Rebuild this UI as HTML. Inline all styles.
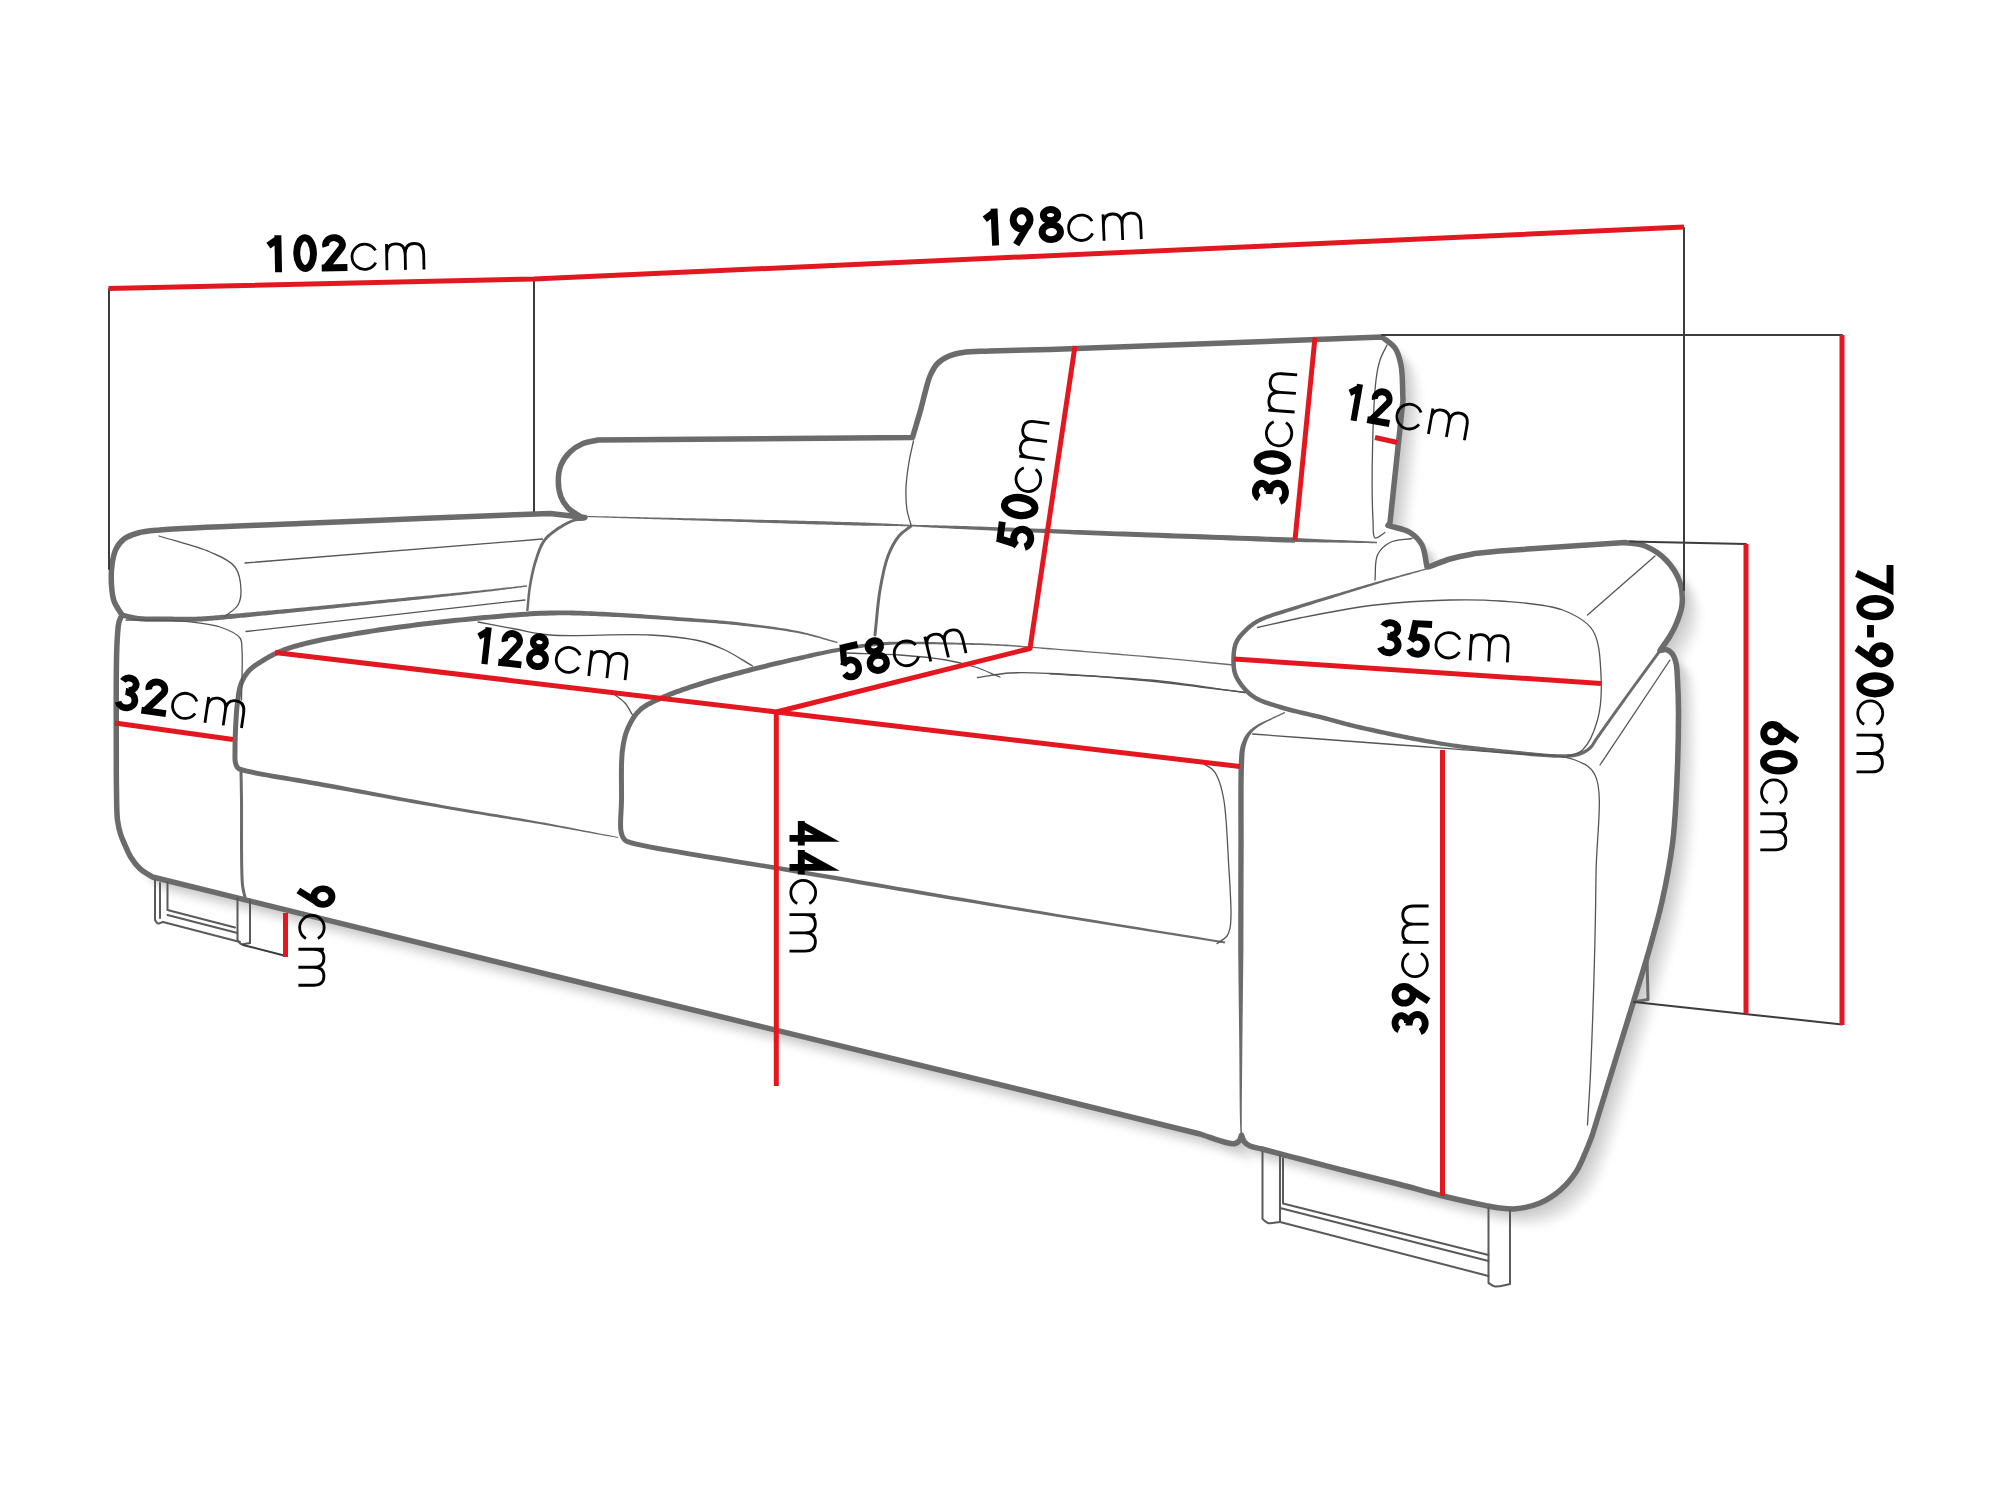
<!DOCTYPE html><html><head><meta charset="utf-8"><style>html,body{margin:0;padding:0;background:#fff;overflow:hidden}svg{display:block}</style></head><body><svg xmlns="http://www.w3.org/2000/svg" width="2000" height="1499" viewBox="0 0 2000 1499">
<defs><filter id="sh" x="-5%" y="-5%" width="115%" height="115%" color-interpolation-filters="sRGB"><feComponentTransfer in="SourceAlpha" result="a"><feFuncA type="linear" slope="0.02"/></feComponentTransfer><feOffset in="a" dx="1.6" dy="1.6" result="o1"/><feOffset in="a" dx="3.2" dy="3.2" result="o2"/><feComposite in="o1" in2="o2" operator="arithmetic" k1="0" k2="1" k3="1" k4="0" result="s2"/><feOffset in="a" dx="4.8" dy="4.8" result="o3"/><feComposite in="s2" in2="o3" operator="arithmetic" k1="0" k2="1" k3="1" k4="0" result="s3"/><feOffset in="a" dx="6.4" dy="6.4" result="o4"/><feComposite in="s3" in2="o4" operator="arithmetic" k1="0" k2="1" k3="1" k4="0" result="s4"/><feOffset in="a" dx="8.0" dy="8.0" result="o5"/><feComposite in="s4" in2="o5" operator="arithmetic" k1="0" k2="1" k3="1" k4="0" result="s5"/><feOffset in="a" dx="9.6" dy="9.6" result="o6"/><feComposite in="s5" in2="o6" operator="arithmetic" k1="0" k2="1" k3="1" k4="0" result="s6"/><feOffset in="a" dx="11.2" dy="11.2" result="o7"/><feComposite in="s6" in2="o7" operator="arithmetic" k1="0" k2="1" k3="1" k4="0" result="s7"/><feOffset in="a" dx="12.8" dy="12.8" result="o8"/><feComposite in="s7" in2="o8" operator="arithmetic" k1="0" k2="1" k3="1" k4="0" result="s8"/><feOffset in="a" dx="14.4" dy="14.4" result="o9"/><feComposite in="s8" in2="o9" operator="arithmetic" k1="0" k2="1" k3="1" k4="0" result="s9"/><feOffset in="a" dx="16.0" dy="16.0" result="o10"/><feComposite in="s9" in2="o10" operator="arithmetic" k1="0" k2="1" k3="1" k4="0" result="s10"/><feOffset in="a" dx="17.6" dy="17.6" result="o11"/><feComposite in="s10" in2="o11" operator="arithmetic" k1="0" k2="1" k3="1" k4="0" result="s11"/><feOffset in="a" dx="19.2" dy="19.2" result="o12"/><feComposite in="s11" in2="o12" operator="arithmetic" k1="0" k2="1" k3="1" k4="0" result="s12"/><feGaussianBlur in="s12" stdDeviation="3.5" result="b"/><feMerge><feMergeNode in="b"/><feMergeNode in="SourceGraphic"/></feMerge></filter></defs>
<rect width="2000" height="1499" fill="#fff"/>
<g fill="none" stroke-linecap="round" stroke-linejoin="round">
<path d="M122.0 615.0 C119.33 610.33 115.75 605.99 114.00 601.00 C112.25 596.00 111.87 590.65 111.50 585.00 C111.09 578.72 111.15 571.25 112.00 565.00 C112.77 559.32 113.77 553.51 116.00 549.00 C117.97 545.03 120.56 541.62 124.00 539.00 C127.75 536.15 132.70 534.47 138.00 533.00 C144.40 531.23 149.47 530.96 160.00 530.00 C186.46 527.59 255.13 525.48 300.00 523.50 C341.54 521.67 380.00 520.17 420.00 518.50 L420.0 518.5 L550.0 513.5 L585.0 517.5 L583.0 518.0 C578.00 514.67 571.78 511.86 568.00 508.00 C564.78 504.72 562.61 501.19 561.00 497.00 C559.20 492.32 558.30 486.33 558.30 481.00 C558.30 475.67 559.02 469.86 561.00 465.00 C562.95 460.20 566.31 455.59 570.00 452.00 C573.66 448.44 578.32 445.50 583.00 443.50 C587.66 441.51 593.00 441.17 598.00 440.00 L598.0 440.0 L912.5 437.5 L912.5 437.5 C913.83 433.00 915.16 428.54 916.50 424.00 C917.86 419.38 919.21 415.03 920.60 410.00 C922.21 404.16 923.84 396.94 925.50 391.00 C926.98 385.69 928.00 380.61 930.00 376.00 C931.89 371.66 933.95 367.27 937.00 364.00 C939.98 360.80 943.87 358.39 948.00 356.50 C952.46 354.46 957.22 353.42 963.00 352.50 C970.63 351.28 981.00 351.50 990.00 351.00 L990.0 351.0 L1050.0 349.5 L1382.0 337.0 L1382.0 337.0 C1386.33 340.67 1391.84 343.43 1395.00 348.00 C1398.25 352.71 1399.64 358.21 1401.00 365.00 C1402.90 374.47 1402.33 388.33 1403.00 400.00 L1403.0 400.0 L1390.0 522.5 L1390.0 522.5 L1388.0 525.5 L1388.0 525.5 C1395.33 527.83 1404.12 528.84 1410.00 532.50 C1415.09 535.67 1419.19 539.78 1422.00 545.00 C1425.21 550.96 1425.33 559.67 1427.00 567.00 L1427.0 567.0 L1430.0 566.5 L1430.0 566.5 C1436.67 564.00 1442.88 561.11 1450.00 559.00 C1457.79 556.69 1466.67 555.33 1475.00 553.50 L1475.0 553.5 L1500.0 551.0 L1625.0 542.5 L1625.0 542.5 C1631.67 543.67 1638.52 543.41 1645.00 546.00 C1652.23 548.89 1660.21 554.02 1666.00 560.00 C1671.93 566.12 1677.38 574.68 1680.00 582.50 C1682.41 589.72 1682.68 598.08 1682.00 605.00 C1681.39 611.13 1679.09 616.69 1677.00 622.00 C1675.04 626.99 1672.73 631.39 1670.00 636.00 C1667.11 640.89 1663.33 645.67 1660.00 650.50 L1660.0 650.5 C1662.00 650.17 1664.08 649.09 1666.00 649.50 C1668.09 649.95 1670.40 651.57 1672.00 653.50 C1673.91 655.81 1675.08 659.29 1676.00 663.00 C1677.18 667.77 1677.11 673.44 1677.50 680.00 C1678.04 688.99 1678.48 698.69 1678.50 712.00 C1678.53 734.07 1677.31 775.75 1676.00 800.00 C1675.07 817.12 1674.53 828.21 1672.50 843.75 C1670.15 861.72 1666.19 882.79 1662.00 901.50 C1657.97 919.50 1652.99 936.54 1648.00 954.00 C1642.99 971.54 1637.33 989.00 1632.00 1006.50 L1632.0 1006.5 L1592.0 1136.0 L1592.0 1136.0 C1589.87 1141.33 1588.06 1146.41 1585.60 1152.00 C1582.81 1158.34 1580.12 1165.73 1576.00 1172.00 C1571.68 1178.57 1566.06 1185.21 1560.00 1190.40 C1554.04 1195.51 1547.24 1199.94 1540.00 1203.00 C1532.60 1206.13 1523.24 1208.12 1516.00 1208.80 C1510.17 1209.35 1505.14 1208.57 1500.00 1208.00 C1495.16 1207.47 1491.97 1206.78 1486.00 1205.60 C1475.24 1203.47 1455.61 1199.10 1441.00 1195.50 C1426.98 1192.05 1414.36 1188.22 1400.00 1184.50 C1384.18 1180.40 1366.66 1176.25 1350.00 1172.00 C1333.32 1167.75 1315.52 1163.06 1300.00 1159.00 C1286.46 1155.46 1271.12 1151.34 1262.00 1149.00 C1256.88 1147.69 1253.12 1147.46 1250.00 1146.00 C1247.68 1144.92 1245.90 1143.74 1244.50 1142.00 C1243.03 1140.18 1242.50 1137.47 1241.50 1135.20 L1241.5 1135.2 C1240.83 1136.97 1240.61 1139.11 1239.50 1140.50 C1238.42 1141.86 1236.86 1143.05 1235.00 1143.50 C1232.60 1144.08 1229.73 1143.31 1226.00 1142.50 C1219.52 1141.10 1208.67 1136.83 1200.00 1134.00 L1200.0 1134.0 L1050.0 1097.0 L550.0 975.0 L152.5 877.0 L152.5 877.0 C148.33 874.25 143.61 872.04 140.00 868.75 C136.46 865.52 133.51 861.50 131.00 857.50 C128.53 853.57 126.80 849.06 125.00 845.00 C123.33 841.24 121.72 837.95 120.50 834.00 C119.16 829.67 118.19 825.58 117.50 820.00 C116.51 811.92 116.71 800.72 116.50 790.00 C116.26 777.63 116.32 766.00 116.30 750.00 C116.27 726.00 116.06 680.71 116.50 660.00 C116.73 649.08 116.96 641.97 117.50 635.00 C117.89 629.96 118.04 625.61 119.00 622.00 C119.73 619.25 121.00 617.33 122.00 615.00 Z" fill="#fff" stroke="none" filter="url(#sh)"/>
<g stroke="#6b6b6b" stroke-width="5.5"><path d="M122.0 615.0 C119.33 610.33 115.75 605.99 114.00 601.00 C112.25 596.00 111.87 590.65 111.50 585.00 C111.09 578.72 111.15 571.25 112.00 565.00 C112.77 559.32 113.77 553.51 116.00 549.00 C117.97 545.03 120.56 541.62 124.00 539.00 C127.75 536.15 132.70 534.47 138.00 533.00 C144.40 531.23 149.47 530.96 160.00 530.00 C186.46 527.59 255.13 525.48 300.00 523.50 C341.54 521.67 380.00 520.17 420.00 518.50 L420.0 518.5 L550.0 513.5 L585.0 517.5 L583.0 518.0 C578.00 514.67 571.78 511.86 568.00 508.00 C564.78 504.72 562.61 501.19 561.00 497.00 C559.20 492.32 558.30 486.33 558.30 481.00 C558.30 475.67 559.02 469.86 561.00 465.00 C562.95 460.20 566.31 455.59 570.00 452.00 C573.66 448.44 578.32 445.50 583.00 443.50 C587.66 441.51 593.00 441.17 598.00 440.00 L598.0 440.0 L912.5 437.5 L912.5 437.5 C913.83 433.00 915.16 428.54 916.50 424.00 C917.86 419.38 919.21 415.03 920.60 410.00 C922.21 404.16 923.84 396.94 925.50 391.00 C926.98 385.69 928.00 380.61 930.00 376.00 C931.89 371.66 933.95 367.27 937.00 364.00 C939.98 360.80 943.87 358.39 948.00 356.50 C952.46 354.46 957.22 353.42 963.00 352.50 C970.63 351.28 981.00 351.50 990.00 351.00 L990.0 351.0 L1050.0 349.5 L1382.0 337.0 L1382.0 337.0 C1386.33 340.67 1391.84 343.43 1395.00 348.00 C1398.25 352.71 1399.64 358.21 1401.00 365.00 C1402.90 374.47 1402.33 388.33 1403.00 400.00 L1403.0 400.0 L1390.0 522.5 L1390.0 522.5 L1388.0 525.5 L1388.0 525.5 C1395.33 527.83 1404.12 528.84 1410.00 532.50 C1415.09 535.67 1419.19 539.78 1422.00 545.00 C1425.21 550.96 1425.33 559.67 1427.00 567.00 L1427.0 567.0 L1430.0 566.5 L1430.0 566.5 C1436.67 564.00 1442.88 561.11 1450.00 559.00 C1457.79 556.69 1466.67 555.33 1475.00 553.50 L1475.0 553.5 L1500.0 551.0 L1625.0 542.5 L1625.0 542.5 C1631.67 543.67 1638.52 543.41 1645.00 546.00 C1652.23 548.89 1660.21 554.02 1666.00 560.00 C1671.93 566.12 1677.38 574.68 1680.00 582.50 C1682.41 589.72 1682.68 598.08 1682.00 605.00 C1681.39 611.13 1679.09 616.69 1677.00 622.00 C1675.04 626.99 1672.73 631.39 1670.00 636.00 C1667.11 640.89 1663.33 645.67 1660.00 650.50 L1660.0 650.5 C1662.00 650.17 1664.08 649.09 1666.00 649.50 C1668.09 649.95 1670.40 651.57 1672.00 653.50 C1673.91 655.81 1675.08 659.29 1676.00 663.00 C1677.18 667.77 1677.11 673.44 1677.50 680.00 C1678.04 688.99 1678.48 698.69 1678.50 712.00 C1678.53 734.07 1677.31 775.75 1676.00 800.00 C1675.07 817.12 1674.53 828.21 1672.50 843.75 C1670.15 861.72 1666.19 882.79 1662.00 901.50 C1657.97 919.50 1652.99 936.54 1648.00 954.00 C1642.99 971.54 1637.33 989.00 1632.00 1006.50 L1632.0 1006.5 L1592.0 1136.0 L1592.0 1136.0 C1589.87 1141.33 1588.06 1146.41 1585.60 1152.00 C1582.81 1158.34 1580.12 1165.73 1576.00 1172.00 C1571.68 1178.57 1566.06 1185.21 1560.00 1190.40 C1554.04 1195.51 1547.24 1199.94 1540.00 1203.00 C1532.60 1206.13 1523.24 1208.12 1516.00 1208.80 C1510.17 1209.35 1505.14 1208.57 1500.00 1208.00 C1495.16 1207.47 1491.97 1206.78 1486.00 1205.60 C1475.24 1203.47 1455.61 1199.10 1441.00 1195.50 C1426.98 1192.05 1414.36 1188.22 1400.00 1184.50 C1384.18 1180.40 1366.66 1176.25 1350.00 1172.00 C1333.32 1167.75 1315.52 1163.06 1300.00 1159.00 C1286.46 1155.46 1271.12 1151.34 1262.00 1149.00 C1256.88 1147.69 1253.12 1147.46 1250.00 1146.00 C1247.68 1144.92 1245.90 1143.74 1244.50 1142.00 C1243.03 1140.18 1242.50 1137.47 1241.50 1135.20 L1241.5 1135.2 C1240.83 1136.97 1240.61 1139.11 1239.50 1140.50 C1238.42 1141.86 1236.86 1143.05 1235.00 1143.50 C1232.60 1144.08 1229.73 1143.31 1226.00 1142.50 C1219.52 1141.10 1208.67 1136.83 1200.00 1134.00 L1200.0 1134.0 L1050.0 1097.0 L550.0 975.0 L152.5 877.0 L152.5 877.0 C148.33 874.25 143.61 872.04 140.00 868.75 C136.46 865.52 133.51 861.50 131.00 857.50 C128.53 853.57 126.80 849.06 125.00 845.00 C123.33 841.24 121.72 837.95 120.50 834.00 C119.16 829.67 118.19 825.58 117.50 820.00 C116.51 811.92 116.71 800.72 116.50 790.00 C116.26 777.63 116.32 766.00 116.30 750.00 C116.27 726.00 116.06 680.71 116.50 660.00 C116.73 649.08 116.96 641.97 117.50 635.00 C117.89 629.96 118.04 625.61 119.00 622.00 C119.73 619.25 121.00 617.33 122.00 615.00 Z"/></g>
<g stroke="#6b6b6b" stroke-width="5"></g>
<g fill="#6b6b6b" stroke="none"><path d="M121.43 617.54 L122.40 617.76 L123.34 617.98 L124.28 618.21 L125.22 618.45 L126.15 618.70 L127.09 618.94 L128.05 619.19 L129.01 619.43 L130.00 619.67 L131.00 619.91 L132.03 620.13 L133.09 620.35 L134.19 620.56 L135.31 620.75 L136.48 620.92 L137.70 621.08 L139.45 621.27 L141.28 621.42 L143.17 621.54 L145.12 621.64 L147.12 621.71 L149.17 621.76 L151.24 621.79 L153.34 621.81 L155.46 621.82 L157.58 621.82 L159.71 621.81 L161.82 621.80 L163.91 621.80 L165.97 621.79 L168.00 621.79 L169.98 621.80 L171.88 621.81 L173.77 621.82 L175.66 621.83 L177.55 621.84 L179.43 621.85 L181.31 621.85 L183.19 621.85 L185.07 621.85 L186.94 621.84 L188.82 621.82 L190.70 621.79 L192.57 621.76 L194.45 621.71 L196.34 621.65 L198.22 621.58 L200.11 621.50 L202.00 621.40 L203.89 621.28 L205.76 621.16 L207.63 621.02 L209.50 620.87 L211.36 620.71 L213.22 620.54 L215.08 620.37 L216.95 620.19 L218.82 620.00 L220.69 619.82 L222.57 619.63 L224.46 619.44 L226.37 619.26 L228.28 619.07 L230.21 618.89 L232.33 618.69 L234.46 618.48 L236.61 618.27 L238.78 618.06 L240.96 617.84 L243.15 617.63 L245.34 617.41 L247.55 617.18 L249.76 616.96 L251.97 616.74 L254.19 616.51 L256.40 616.29 L258.61 616.06 L260.82 615.84 L263.02 615.61 L265.21 615.39 L267.38 615.17 L269.52 614.95 L271.64 614.73 L273.74 614.52 L275.83 614.30 L277.92 614.09 L280.01 613.87 L282.12 613.66 L284.24 613.44 L286.39 613.22 L288.57 612.99 L290.79 612.76 L293.06 612.53 L295.37 612.29 L297.75 612.04 L300.20 611.79 L303.50 611.45 L306.91 611.09 L310.41 610.73 L314.01 610.36 L317.67 609.97 L321.41 609.58 L325.20 609.19 L329.03 608.79 L332.90 608.39 L336.80 607.98 L340.72 607.57 L344.64 607.16 L348.55 606.75 L352.45 606.35 L356.33 605.94 L360.17 605.54 L364.17 605.13 L368.21 604.71 L372.27 604.29 L376.36 603.87 L380.47 603.45 L384.59 603.02 L388.71 602.60 L392.84 602.17 L396.96 601.75 L401.07 601.32 L405.16 600.89 L409.23 600.47 L413.27 600.05 L417.27 599.63 L421.24 599.21 L425.15 598.79 L428.72 598.40 L432.27 598.01 L435.81 597.62 L439.32 597.24 L442.81 596.85 L446.29 596.46 L449.75 596.08 L453.19 595.69 L456.62 595.31 L460.03 594.92 L463.42 594.54 L466.79 594.15 L470.15 593.76 L473.49 593.37 L476.81 592.98 L480.12 592.59 L483.16 592.23 L486.17 591.86 L489.16 591.50 L492.13 591.13 L495.08 590.76 L498.01 590.39 L500.93 590.02 L503.84 589.65 L506.74 589.28 L509.64 588.91 L512.53 588.54 L515.43 588.17 L518.33 587.80 L521.24 587.43 L524.15 587.06 L527.08 586.70 L526.92 585.30 L523.98 585.62 L521.06 585.94 L518.15 586.26 L515.24 586.58 L512.34 586.90 L509.44 587.22 L506.53 587.54 L503.63 587.86 L500.71 588.18 L497.79 588.50 L494.85 588.82 L491.90 589.14 L488.93 589.46 L485.94 589.78 L482.92 590.09 L479.88 590.41 L476.57 590.75 L473.24 591.09 L469.90 591.43 L466.53 591.76 L463.16 592.10 L459.76 592.44 L456.35 592.77 L452.92 593.11 L449.48 593.44 L446.01 593.78 L442.53 594.11 L439.03 594.45 L435.51 594.79 L431.98 595.13 L428.42 595.47 L424.85 595.81 L420.93 596.19 L416.96 596.58 L412.96 596.97 L408.91 597.36 L404.84 597.75 L400.75 598.15 L396.64 598.54 L392.52 598.94 L388.39 599.33 L384.26 599.73 L380.14 600.12 L376.03 600.51 L371.93 600.90 L367.87 601.29 L363.83 601.68 L359.83 602.06 L355.98 602.43 L352.10 602.80 L348.19 603.18 L344.27 603.55 L340.35 603.93 L336.43 604.31 L332.53 604.69 L328.66 605.06 L324.82 605.43 L321.03 605.79 L317.29 606.15 L313.62 606.50 L310.03 606.84 L306.52 607.18 L303.11 607.50 L299.80 607.81 L297.36 608.04 L294.98 608.26 L292.66 608.47 L290.39 608.68 L288.17 608.89 L285.99 609.09 L283.84 609.28 L281.71 609.48 L279.61 609.67 L277.51 609.86 L275.42 610.05 L273.33 610.24 L271.22 610.43 L269.10 610.62 L266.96 610.81 L264.79 611.01 L262.60 611.21 L260.39 611.41 L258.18 611.61 L255.97 611.81 L253.75 612.01 L251.54 612.21 L249.32 612.41 L247.11 612.61 L244.91 612.80 L242.71 613.00 L240.52 613.19 L238.34 613.38 L236.18 613.57 L234.03 613.75 L231.90 613.93 L229.79 614.11 L227.84 614.28 L225.92 614.45 L224.01 614.63 L222.11 614.80 L220.23 614.98 L218.35 615.15 L216.49 615.32 L214.64 615.49 L212.79 615.65 L210.95 615.80 L209.11 615.95 L207.27 616.08 L205.43 616.21 L203.59 616.32 L201.74 616.42 L199.89 616.50 L198.03 616.57 L196.18 616.63 L194.33 616.67 L192.48 616.71 L190.63 616.73 L188.77 616.74 L186.92 616.75 L185.06 616.75 L183.20 616.74 L181.33 616.73 L179.46 616.71 L177.59 616.69 L175.71 616.67 L173.82 616.65 L171.92 616.62 L170.02 616.60 L168.01 616.59 L165.97 616.59 L163.89 616.60 L161.80 616.60 L159.69 616.61 L157.57 616.62 L155.47 616.62 L153.38 616.61 L151.31 616.60 L149.27 616.56 L147.28 616.51 L145.34 616.44 L143.46 616.35 L141.66 616.24 L139.94 616.09 L138.30 615.92 L137.20 615.77 L136.14 615.61 L135.10 615.44 L134.10 615.25 L133.12 615.05 L132.16 614.84 L131.21 614.61 L130.27 614.38 L129.33 614.15 L128.40 613.91 L127.46 613.66 L126.51 613.42 L125.55 613.17 L124.57 612.93 L123.58 612.69 L122.57 612.46 Z"/><path d="M586.98 517.10 L590.91 517.22 L594.84 517.34 L598.75 517.46 L602.66 517.57 L606.56 517.69 L610.46 517.81 L614.37 517.93 L618.27 518.05 L622.19 518.16 L626.11 518.28 L630.05 518.40 L634.00 518.52 L637.96 518.64 L641.95 518.76 L645.95 518.88 L649.98 519.00 L654.24 519.14 L658.52 519.28 L662.81 519.42 L667.11 519.56 L671.42 519.70 L675.75 519.84 L680.09 519.99 L684.45 520.13 L688.83 520.27 L693.22 520.42 L697.63 520.56 L702.06 520.71 L706.50 520.86 L710.97 521.00 L715.46 521.15 L719.97 521.30 L724.84 521.46 L729.79 521.62 L734.80 521.79 L739.86 521.95 L744.96 522.12 L750.08 522.29 L755.21 522.46 L760.35 522.63 L765.47 522.80 L770.57 522.97 L775.63 523.13 L780.64 523.30 L785.59 523.47 L790.47 523.63 L795.26 523.79 L799.95 523.95 L803.97 524.06 L807.98 524.17 L811.97 524.28 L815.94 524.39 L819.88 524.50 L823.79 524.60 L827.67 524.71 L831.50 524.82 L835.28 524.92 L839.01 525.02 L842.68 525.12 L846.29 525.22 L849.82 525.32 L853.28 525.42 L856.66 525.51 L859.95 525.60 L862.42 525.63 L864.87 525.66 L867.28 525.69 L869.66 525.72 L872.01 525.75 L874.32 525.78 L876.60 525.80 L878.83 525.83 L881.02 525.85 L883.17 525.87 L885.27 525.89 L887.32 525.92 L889.31 525.94 L891.26 525.96 L893.14 525.98 L894.97 526.00 L896.18 526.03 L897.33 526.05 L898.41 526.07 L899.44 526.09 L900.44 526.11 L901.41 526.14 L902.36 526.16 L903.31 526.18 L904.26 526.20 L905.23 526.22 L906.22 526.25 L907.26 526.27 L908.34 526.30 L909.47 526.33 L910.68 526.36 L911.97 526.40 L914.27 526.54 L916.70 526.68 L919.24 526.83 L921.90 526.98 L924.66 527.14 L927.52 527.30 L930.46 527.47 L933.50 527.64 L936.60 527.81 L939.78 527.99 L943.02 528.17 L946.32 528.35 L949.67 528.53 L953.06 528.72 L956.48 528.91 L959.94 529.10 L964.78 529.33 L969.81 529.57 L975.00 529.82 L980.34 530.07 L985.82 530.33 L991.41 530.60 L997.10 530.87 L1002.87 531.15 L1008.71 531.43 L1014.59 531.70 L1020.50 531.98 L1026.43 532.26 L1032.35 532.54 L1038.25 532.81 L1044.11 533.08 L1049.91 533.35 L1055.99 533.61 L1062.03 533.87 L1068.07 534.12 L1074.11 534.38 L1080.15 534.63 L1086.21 534.89 L1092.30 535.14 L1098.42 535.40 L1104.59 535.65 L1110.82 535.91 L1117.11 536.17 L1123.48 536.43 L1129.94 536.69 L1136.49 536.96 L1143.14 537.23 L1149.91 537.50 L1158.23 537.81 L1166.75 538.13 L1175.44 538.45 L1184.27 538.78 L1193.24 539.11 L1202.32 539.44 L1211.49 539.77 L1220.73 540.11 L1230.03 540.44 L1239.36 540.78 L1248.70 541.12 L1258.03 541.46 L1267.34 541.80 L1276.60 542.13 L1285.80 542.47 L1294.91 542.80 L1295.09 537.60 L1285.98 537.28 L1276.78 536.96 L1267.52 536.64 L1258.21 536.31 L1248.88 535.99 L1239.54 535.66 L1230.21 535.34 L1220.91 535.01 L1211.67 534.69 L1202.50 534.37 L1193.42 534.05 L1184.45 533.73 L1175.62 533.42 L1166.93 533.11 L1158.42 532.80 L1150.09 532.50 L1143.32 532.27 L1136.67 532.05 L1130.12 531.83 L1123.66 531.61 L1117.29 531.39 L1111.00 531.17 L1104.77 530.96 L1098.60 530.75 L1092.47 530.54 L1086.39 530.33 L1080.32 530.12 L1074.28 529.91 L1068.24 529.70 L1062.21 529.48 L1056.16 529.27 L1050.09 529.05 L1044.28 528.85 L1038.42 528.65 L1032.51 528.45 L1026.59 528.24 L1020.66 528.03 L1014.75 527.82 L1008.86 527.61 L1003.03 527.40 L997.25 527.20 L991.56 526.99 L985.97 526.79 L980.49 526.60 L975.14 526.41 L969.94 526.23 L964.91 526.06 L960.06 525.90 L956.61 525.81 L953.18 525.72 L949.79 525.64 L946.43 525.55 L943.13 525.47 L939.89 525.39 L936.70 525.31 L933.59 525.24 L930.56 525.17 L927.60 525.10 L924.74 525.04 L921.98 524.98 L919.32 524.93 L916.77 524.88 L914.34 524.84 L912.03 524.80 L910.74 524.74 L909.54 524.68 L908.40 524.63 L907.32 524.57 L906.29 524.52 L905.29 524.47 L904.33 524.42 L903.37 524.38 L902.43 524.33 L901.47 524.29 L900.50 524.24 L899.51 524.19 L898.47 524.15 L897.39 524.10 L896.25 524.05 L895.03 524.00 L893.21 523.90 L891.32 523.81 L889.38 523.71 L887.38 523.62 L885.34 523.52 L883.24 523.42 L881.09 523.33 L878.90 523.23 L876.67 523.13 L874.40 523.03 L872.09 522.93 L869.74 522.82 L867.36 522.72 L864.95 522.61 L862.51 522.51 L860.05 522.40 L856.75 522.30 L853.37 522.21 L849.91 522.10 L846.38 522.00 L842.77 521.89 L839.10 521.79 L835.37 521.68 L831.59 521.57 L827.76 521.45 L823.89 521.34 L819.97 521.23 L816.03 521.11 L812.06 521.00 L808.07 520.88 L804.06 520.77 L800.05 520.65 L795.35 520.55 L790.56 520.44 L785.68 520.34 L780.73 520.23 L775.71 520.12 L770.65 520.00 L765.55 519.89 L760.43 519.78 L755.29 519.67 L750.15 519.55 L745.03 519.44 L739.93 519.33 L734.87 519.22 L729.86 519.11 L724.91 519.00 L720.03 518.90 L715.52 518.80 L711.03 518.70 L706.56 518.61 L702.12 518.51 L697.69 518.42 L693.28 518.32 L688.88 518.23 L684.51 518.13 L680.15 518.04 L675.80 517.95 L671.47 517.85 L667.16 517.76 L662.85 517.67 L658.56 517.58 L654.29 517.49 L650.02 517.40 L645.99 517.30 L641.99 517.21 L638.00 517.11 L634.04 517.02 L630.09 516.93 L626.15 516.83 L622.23 516.74 L618.31 516.65 L614.40 516.55 L610.50 516.46 L606.59 516.37 L602.69 516.27 L598.78 516.18 L594.87 516.09 L590.95 515.99 L587.02 515.90 Z"/><path d="M1294.94 542.00 L1300.07 542.08 L1305.19 542.15 L1310.32 542.23 L1315.45 542.31 L1320.58 542.39 L1325.70 542.47 L1330.83 542.55 L1335.96 542.62 L1341.09 542.70 L1346.21 542.78 L1351.34 542.86 L1356.47 542.94 L1361.60 543.02 L1366.72 543.09 L1371.85 543.17 L1376.98 543.25 L1377.02 541.75 L1371.90 541.52 L1366.78 541.28 L1361.66 541.05 L1356.53 540.81 L1351.41 540.58 L1346.29 540.34 L1341.16 540.11 L1336.04 539.88 L1330.92 539.64 L1325.80 539.41 L1320.67 539.17 L1315.55 538.94 L1310.43 538.70 L1305.31 538.47 L1300.18 538.23 L1295.06 538.00 Z"/><path d="M582.91 518.25 L582.36 518.29 L581.84 518.30 L581.32 518.31 L580.79 518.31 L580.26 518.30 L579.72 518.30 L579.17 518.29 L578.61 518.29 L578.04 518.31 L577.45 518.33 L576.85 518.37 L576.23 518.43 L575.60 518.52 L574.95 518.63 L574.28 518.78 L573.59 518.96 L572.55 519.29 L571.46 519.69 L570.33 520.14 L569.17 520.64 L567.99 521.19 L566.78 521.78 L565.56 522.41 L564.33 523.07 L563.11 523.75 L561.89 524.45 L560.69 525.16 L559.50 525.89 L558.35 526.62 L557.23 527.35 L556.16 528.07 L555.13 528.77 L554.26 529.40 L553.41 530.01 L552.56 530.63 L551.72 531.26 L550.90 531.89 L550.09 532.53 L549.29 533.18 L548.50 533.85 L547.73 534.54 L546.97 535.25 L546.23 535.99 L545.50 536.75 L544.79 537.55 L544.10 538.38 L543.42 539.24 L542.77 540.15 L542.04 541.25 L541.35 542.40 L540.69 543.60 L540.06 544.83 L539.46 546.10 L538.90 547.40 L538.35 548.72 L537.83 550.06 L537.32 551.42 L536.84 552.79 L536.37 554.18 L535.91 555.56 L535.46 556.95 L535.02 558.33 L534.59 559.71 L534.16 561.08 L533.72 562.55 L533.29 564.04 L532.87 565.55 L532.47 567.07 L532.09 568.60 L531.72 570.15 L531.37 571.70 L531.03 573.26 L530.70 574.82 L530.39 576.39 L530.08 577.96 L529.79 579.53 L529.51 581.10 L529.24 582.67 L528.97 584.23 L528.72 585.79 L528.47 587.35 L528.25 588.92 L528.05 590.49 L527.86 592.06 L527.69 593.64 L527.53 595.21 L527.37 596.78 L527.23 598.35 L527.09 599.92 L526.96 601.49 L526.82 603.06 L526.69 604.63 L526.55 606.19 L526.41 607.76 L526.26 609.32 L526.11 610.88 L528.49 611.12 L528.66 609.56 L528.83 607.99 L528.98 606.42 L529.13 604.85 L529.28 603.28 L529.42 601.71 L529.57 600.15 L529.72 598.59 L529.87 597.03 L530.04 595.47 L530.21 593.92 L530.39 592.37 L530.59 590.82 L530.80 589.28 L531.03 587.74 L531.28 586.21 L531.55 584.67 L531.82 583.12 L532.10 581.57 L532.40 580.02 L532.70 578.47 L533.01 576.92 L533.33 575.37 L533.67 573.83 L534.01 572.30 L534.37 570.77 L534.75 569.26 L535.13 567.76 L535.54 566.28 L535.95 564.81 L536.39 563.36 L536.84 561.92 L537.27 560.56 L537.71 559.19 L538.16 557.82 L538.61 556.46 L539.08 555.10 L539.55 553.75 L540.03 552.42 L540.53 551.10 L541.05 549.82 L541.58 548.56 L542.13 547.33 L542.71 546.14 L543.30 545.00 L543.92 543.90 L544.56 542.85 L545.23 541.85 L545.82 541.04 L546.43 540.26 L547.06 539.51 L547.70 538.79 L548.37 538.09 L549.05 537.41 L549.75 536.75 L550.47 536.11 L551.21 535.48 L551.97 534.87 L552.74 534.26 L553.53 533.65 L554.34 533.05 L555.17 532.44 L556.01 531.84 L556.87 531.23 L557.85 530.53 L558.88 529.82 L559.96 529.11 L561.07 528.39 L562.21 527.67 L563.38 526.97 L564.55 526.28 L565.73 525.61 L566.91 524.96 L568.08 524.35 L569.23 523.77 L570.35 523.24 L571.44 522.75 L572.48 522.32 L573.47 521.95 L574.41 521.64 L574.97 521.47 L575.52 521.34 L576.06 521.22 L576.59 521.13 L577.12 521.06 L577.64 521.01 L578.16 520.97 L578.68 520.94 L579.21 520.92 L579.74 520.91 L580.27 520.90 L580.82 520.88 L581.38 520.86 L581.94 520.84 L582.52 520.80 L583.09 520.75 Z"/><path d="M837.67 641.87 L835.35 641.22 L833.06 640.56 L830.80 639.90 L828.55 639.23 L826.31 638.55 L824.07 637.88 L821.82 637.20 L819.56 636.53 L817.28 635.86 L814.98 635.20 L812.64 634.55 L810.26 633.92 L807.83 633.29 L805.35 632.68 L802.81 632.09 L800.20 631.52 L796.85 630.83 L793.40 630.16 L789.87 629.51 L786.27 628.87 L782.59 628.26 L778.86 627.67 L775.07 627.09 L771.24 626.52 L767.38 625.98 L763.50 625.44 L759.60 624.92 L755.69 624.42 L751.79 623.92 L747.89 623.44 L744.01 622.97 L740.16 622.51 L736.17 622.05 L732.16 621.62 L728.13 621.21 L724.09 620.81 L720.03 620.44 L715.96 620.07 L711.89 619.72 L707.80 619.39 L703.72 619.06 L699.62 618.74 L695.53 618.42 L691.44 618.11 L687.36 617.80 L683.28 617.49 L679.20 617.17 L675.14 616.85 L671.07 616.54 L667.00 616.21 L662.92 615.89 L658.84 615.57 L654.75 615.25 L650.66 614.94 L646.57 614.63 L642.48 614.32 L638.40 614.02 L634.33 613.74 L630.26 613.46 L626.20 613.19 L622.15 612.93 L618.12 612.69 L614.10 612.46 L610.10 612.25 L606.31 612.06 L602.55 611.87 L598.83 611.68 L595.14 611.49 L591.47 611.31 L587.80 611.14 L584.14 610.98 L580.47 610.83 L576.78 610.70 L573.07 610.59 L569.34 610.51 L565.57 610.44 L561.75 610.41 L557.87 610.41 L553.94 610.44 L549.94 610.50 L545.21 610.64 L540.40 610.84 L535.49 611.08 L530.52 611.36 L525.49 611.68 L520.41 612.03 L515.30 612.42 L510.16 612.83 L505.02 613.26 L499.88 613.70 L494.75 614.16 L489.65 614.63 L484.59 615.10 L479.58 615.58 L474.63 616.05 L469.76 616.51 L465.24 616.94 L460.71 617.39 L456.20 617.85 L451.70 618.31 L447.22 618.79 L442.75 619.27 L438.30 619.77 L433.88 620.27 L429.48 620.78 L425.11 621.30 L420.78 621.82 L416.47 622.35 L412.21 622.89 L407.99 623.43 L403.80 623.97 L399.67 624.52 L396.02 625.02 L392.38 625.52 L388.76 626.03 L385.17 626.55 L381.59 627.07 L378.04 627.60 L374.52 628.13 L371.03 628.66 L367.57 629.20 L364.15 629.75 L360.77 630.29 L357.43 630.84 L354.14 631.39 L350.90 631.94 L347.70 632.49 L344.57 633.04 L342.00 633.49 L339.47 633.94 L336.96 634.40 L334.48 634.85 L332.02 635.30 L329.59 635.75 L327.19 636.20 L324.82 636.66 L322.47 637.12 L320.16 637.59 L317.87 638.07 L315.62 638.55 L313.39 639.04 L311.19 639.54 L309.03 640.05 L306.90 640.57 L305.17 641.01 L303.47 641.44 L301.79 641.87 L300.13 642.30 L298.49 642.73 L296.87 643.17 L295.27 643.62 L293.69 644.07 L292.12 644.54 L290.57 645.01 L289.04 645.50 L287.52 646.00 L286.01 646.52 L284.52 647.05 L283.04 647.60 L281.58 648.18 L280.27 648.71 L278.99 649.25 L277.72 649.80 L276.46 650.36 L275.22 650.94 L274.00 651.52 L272.79 652.12 L271.59 652.72 L270.40 653.33 L269.23 653.96 L268.07 654.59 L266.93 655.23 L265.79 655.88 L264.66 656.53 L263.55 657.20 L262.45 657.87 L261.42 658.49 L260.39 659.13 L259.36 659.76 L258.33 660.41 L257.30 661.06 L256.27 661.73 L255.25 662.41 L254.24 663.10 L253.24 663.81 L252.26 664.53 L251.30 665.27 L250.36 666.03 L249.45 666.82 L248.57 667.62 L247.72 668.46 L246.91 669.31 L246.21 670.09 L245.55 670.88 L244.92 671.68 L244.31 672.49 L243.72 673.31 L243.16 674.14 L242.62 674.98 L242.10 675.84 L241.61 676.71 L241.13 677.58 L240.68 678.48 L240.24 679.38 L239.82 680.29 L239.42 681.22 L239.03 682.16 L238.66 683.13 L238.26 684.24 L237.89 685.40 L237.56 686.57 L237.27 687.76 L237.00 688.96 L236.75 690.17 L236.53 691.39 L236.32 692.61 L236.13 693.84 L235.96 695.06 L235.79 696.27 L235.63 697.48 L235.48 698.68 L235.33 699.86 L235.18 701.02 L235.02 702.17 L234.87 703.27 L234.74 704.37 L234.61 705.45 L234.49 706.52 L234.38 707.59 L234.28 708.65 L234.19 709.71 L234.10 710.78 L234.02 711.85 L233.94 712.93 L233.86 714.03 L233.79 715.14 L233.72 716.28 L233.65 717.44 L233.58 718.63 L233.50 719.86 L233.41 721.54 L233.31 723.32 L233.22 725.18 L233.13 727.11 L233.04 729.08 L232.96 731.10 L232.88 733.14 L232.80 735.18 L232.73 737.22 L232.67 739.23 L232.62 741.20 L232.58 743.13 L232.54 744.98 L232.52 746.76 L232.50 748.44 L232.50 750.00 L232.50 750.96 L232.49 751.90 L232.48 752.83 L232.47 753.75 L232.45 754.65 L232.44 755.53 L232.44 756.41 L232.44 757.27 L232.46 758.11 L232.48 758.94 L232.52 759.75 L232.58 760.55 L232.66 761.34 L232.77 762.11 L232.91 762.87 L233.07 763.59 L233.20 764.06 L233.32 764.49 L233.45 764.91 L233.59 765.33 L233.73 765.74 L233.89 766.15 L234.06 766.55 L234.24 766.94 L234.44 767.33 L234.65 767.71 L234.87 768.09 L235.12 768.46 L235.38 768.81 L235.66 769.16 L235.96 769.49 L236.27 769.80 L236.56 770.07 L236.86 770.32 L237.17 770.56 L237.49 770.77 L237.81 770.97 L238.15 771.15 L238.48 771.30 L238.81 771.44 L239.14 771.57 L239.47 771.68 L239.81 771.79 L240.16 771.90 L240.52 772.01 L240.91 772.13 L241.32 772.25 L241.83 772.41 L244.30 773.07 L247.51 773.81 L251.37 774.62 L255.81 775.48 L260.77 776.40 L266.18 777.37 L271.97 778.38 L278.07 779.42 L284.41 780.49 L290.92 781.59 L297.53 782.70 L304.17 783.81 L310.77 784.93 L317.25 786.04 L323.55 787.14 L329.60 788.21 L336.61 789.46 L343.82 790.75 L351.19 792.07 L358.69 793.42 L366.30 794.80 L374.00 796.19 L381.75 797.58 L389.54 798.99 L397.32 800.39 L405.09 801.78 L412.80 803.15 L420.44 804.50 L427.98 805.83 L435.39 807.12 L442.65 808.37 L449.72 809.58 L455.72 810.58 L461.65 811.57 L467.51 812.52 L473.31 813.45 L479.06 814.37 L484.75 815.27 L490.39 816.15 L496.00 817.03 L501.56 817.90 L507.09 818.77 L512.59 819.64 L518.06 820.51 L523.52 821.38 L528.96 822.27 L534.39 823.17 L539.81 824.08 L544.84 824.94 L549.84 825.80 L554.80 826.66 L559.73 827.52 L564.63 828.39 L569.51 829.26 L574.37 830.13 L579.21 831.01 L584.04 831.88 L588.87 832.75 L593.69 833.63 L598.51 834.50 L603.34 835.38 L608.18 836.25 L613.04 837.12 L617.91 837.99 L618.09 837.01 L613.23 836.07 L608.40 835.12 L603.57 834.17 L598.75 833.23 L593.94 832.28 L589.14 831.33 L584.32 830.38 L579.50 829.43 L574.67 828.49 L569.83 827.54 L564.96 826.60 L560.07 825.66 L555.15 824.72 L550.20 823.78 L545.22 822.85 L540.19 821.92 L534.77 820.94 L529.35 819.98 L523.91 819.03 L518.46 818.09 L512.99 817.16 L507.50 816.23 L501.98 815.30 L496.43 814.37 L490.84 813.43 L485.20 812.48 L479.52 811.52 L473.79 810.54 L468.01 809.55 L462.16 808.53 L456.25 807.49 L450.28 806.42 L443.22 805.14 L435.99 803.81 L428.59 802.44 L421.07 801.04 L413.45 799.60 L405.76 798.15 L398.01 796.68 L390.24 795.20 L382.47 793.72 L374.73 792.24 L367.05 790.77 L359.45 789.32 L351.96 787.89 L344.61 786.48 L337.41 785.12 L330.40 783.79 L324.35 782.68 L318.04 781.55 L311.55 780.40 L304.95 779.26 L298.32 778.11 L291.71 776.97 L285.21 775.84 L278.88 774.74 L272.79 773.67 L267.03 772.63 L261.65 771.64 L256.73 770.69 L252.35 769.81 L248.58 768.99 L245.51 768.25 L243.17 767.59 L242.77 767.47 L242.35 767.34 L241.97 767.23 L241.63 767.12 L241.33 767.03 L241.07 766.95 L240.85 766.87 L240.66 766.80 L240.51 766.73 L240.38 766.67 L240.28 766.62 L240.18 766.56 L240.08 766.50 L239.98 766.42 L239.86 766.32 L239.73 766.20 L239.59 766.06 L239.46 765.92 L239.34 765.76 L239.22 765.59 L239.10 765.41 L238.98 765.22 L238.86 765.00 L238.75 764.78 L238.64 764.53 L238.53 764.27 L238.42 763.99 L238.31 763.70 L238.21 763.39 L238.11 763.07 L238.02 762.73 L237.93 762.41 L237.81 761.88 L237.71 761.33 L237.63 760.74 L237.56 760.11 L237.51 759.44 L237.48 758.74 L237.45 757.99 L237.44 757.22 L237.44 756.41 L237.44 755.57 L237.45 754.71 L237.47 753.82 L237.48 752.90 L237.49 751.95 L237.50 750.98 L237.50 750.00 L237.50 748.46 L237.52 746.81 L237.54 745.07 L237.58 743.23 L237.62 741.33 L237.67 739.37 L237.73 737.37 L237.80 735.35 L237.87 733.32 L237.95 731.30 L238.04 729.30 L238.12 727.33 L238.21 725.42 L238.31 723.58 L238.40 721.81 L238.50 720.14 L238.57 718.93 L238.64 717.74 L238.71 716.59 L238.78 715.46 L238.85 714.36 L238.93 713.28 L239.00 712.22 L239.08 711.18 L239.17 710.14 L239.26 709.11 L239.36 708.08 L239.46 707.05 L239.58 706.02 L239.70 704.97 L239.83 703.92 L239.98 702.83 L240.13 701.67 L240.29 700.50 L240.44 699.31 L240.59 698.12 L240.75 696.94 L240.91 695.75 L241.08 694.58 L241.26 693.41 L241.45 692.25 L241.66 691.12 L241.88 690.00 L242.13 688.92 L242.40 687.85 L242.69 686.83 L243.00 685.84 L243.34 684.87 L243.68 684.02 L244.03 683.17 L244.39 682.33 L244.77 681.51 L245.15 680.70 L245.56 679.91 L245.98 679.14 L246.42 678.37 L246.87 677.62 L247.34 676.89 L247.83 676.16 L248.34 675.44 L248.87 674.74 L249.42 674.05 L250.00 673.36 L250.59 672.69 L251.28 671.97 L252.00 671.26 L252.77 670.56 L253.57 669.87 L254.41 669.19 L255.28 668.52 L256.17 667.86 L257.10 667.20 L258.05 666.55 L259.01 665.91 L260.00 665.27 L260.99 664.64 L262.00 664.01 L263.02 663.38 L264.04 662.76 L265.05 662.13 L266.13 661.48 L267.20 660.84 L268.29 660.21 L269.38 659.58 L270.49 658.97 L271.60 658.36 L272.73 657.76 L273.87 657.17 L275.01 656.59 L276.18 656.02 L277.35 655.46 L278.54 654.91 L279.74 654.37 L280.95 653.85 L282.18 653.33 L283.42 652.82 L284.83 652.28 L286.24 651.75 L287.67 651.24 L289.12 650.74 L290.58 650.26 L292.06 649.78 L293.57 649.32 L295.09 648.87 L296.63 648.43 L298.20 647.99 L299.79 647.56 L301.40 647.13 L303.04 646.71 L304.70 646.28 L306.39 645.85 L308.10 645.43 L310.20 644.91 L312.32 644.41 L314.48 643.92 L316.68 643.44 L318.90 642.96 L321.16 642.49 L323.45 642.03 L325.78 641.57 L328.13 641.11 L330.51 640.66 L332.93 640.21 L335.37 639.76 L337.85 639.32 L340.35 638.87 L342.88 638.42 L345.43 637.96 L348.56 637.41 L351.74 636.87 L354.97 636.32 L358.25 635.77 L361.57 635.23 L364.94 634.68 L368.35 634.14 L371.79 633.60 L375.27 633.07 L378.78 632.54 L382.32 632.02 L385.88 631.50 L389.47 630.98 L393.07 630.47 L396.70 629.97 L400.33 629.48 L404.46 628.93 L408.63 628.39 L412.84 627.85 L417.09 627.31 L421.38 626.78 L425.71 626.26 L430.06 625.74 L434.45 625.24 L438.86 624.74 L443.29 624.24 L447.75 623.76 L452.22 623.28 L456.71 622.82 L461.21 622.37 L465.72 621.92 L470.24 621.49 L475.11 621.03 L480.05 620.56 L485.06 620.08 L490.11 619.61 L495.20 619.14 L500.32 618.68 L505.44 618.24 L510.57 617.81 L515.68 617.40 L520.77 617.02 L525.82 616.67 L530.82 616.35 L535.76 616.07 L540.62 615.83 L545.39 615.64 L550.06 615.50 L554.02 615.40 L557.91 615.34 L561.74 615.32 L565.52 615.32 L569.26 615.35 L572.97 615.40 L576.65 615.48 L580.31 615.58 L583.96 615.69 L587.61 615.82 L591.26 615.96 L594.93 616.11 L598.62 616.27 L602.34 616.43 L606.10 616.59 L609.90 616.75 L613.88 616.91 L617.89 617.10 L621.91 617.29 L625.94 617.51 L629.99 617.73 L634.05 617.96 L638.12 618.21 L642.20 618.46 L646.28 618.72 L650.37 618.99 L654.46 619.26 L658.55 619.54 L662.63 619.81 L666.72 620.09 L670.79 620.37 L674.86 620.65 L678.93 620.91 L683.01 621.18 L687.10 621.44 L691.19 621.70 L695.28 621.96 L699.37 622.23 L703.46 622.50 L707.55 622.78 L711.63 623.06 L715.70 623.36 L719.76 623.67 L723.81 624.00 L727.84 624.34 L731.86 624.70 L735.86 625.09 L739.84 625.49 L743.68 625.89 L747.56 626.30 L751.46 626.72 L755.36 627.15 L759.27 627.59 L763.17 628.05 L767.05 628.52 L770.91 629.00 L774.73 629.50 L778.51 630.01 L782.24 630.55 L785.91 631.10 L789.51 631.66 L793.03 632.25 L796.46 632.85 L799.80 633.48 L802.39 634.00 L804.92 634.55 L807.39 635.11 L809.81 635.69 L812.18 636.28 L814.52 636.88 L816.83 637.50 L819.11 638.12 L821.37 638.75 L823.63 639.38 L825.88 640.01 L828.14 640.64 L830.41 641.27 L832.69 641.90 L835.00 642.52 L837.33 643.13 Z"/><path d="M1233.81 664.35 L1228.59 663.85 L1223.39 663.35 L1218.22 662.85 L1213.05 662.34 L1207.89 661.84 L1202.73 661.33 L1197.57 660.83 L1192.40 660.33 L1187.22 659.82 L1182.01 659.32 L1176.78 658.82 L1171.52 658.32 L1166.22 657.83 L1160.89 657.33 L1155.50 656.84 L1150.06 656.35 L1143.99 655.81 L1137.75 655.27 L1131.37 654.72 L1124.88 654.16 L1118.31 653.61 L1111.70 653.05 L1105.08 652.50 L1098.47 651.95 L1091.91 651.42 L1085.44 650.89 L1079.07 650.37 L1072.85 649.87 L1066.81 649.39 L1060.98 648.92 L1055.38 648.47 L1050.06 648.05 L1046.46 647.76 L1042.99 647.47 L1039.63 647.19 L1036.36 646.92 L1033.17 646.65 L1030.06 646.38 L1027.00 646.13 L1023.99 645.88 L1021.02 645.64 L1018.06 645.41 L1015.11 645.18 L1012.16 644.97 L1009.19 644.76 L1006.19 644.56 L1003.14 644.38 L1000.04 644.20 L996.92 644.03 L993.79 643.88 L990.66 643.73 L987.54 643.60 L984.41 643.47 L981.28 643.36 L978.15 643.25 L975.03 643.15 L971.90 643.05 L968.78 642.97 L965.65 642.88 L962.52 642.80 L959.40 642.72 L956.27 642.65 L953.15 642.57 L950.02 642.50 L946.87 642.41 L943.66 642.32 L940.41 642.23 L937.14 642.14 L933.85 642.05 L930.56 641.96 L927.27 641.88 L924.00 641.80 L920.76 641.73 L917.57 641.68 L914.43 641.63 L911.36 641.59 L908.36 641.57 L905.46 641.56 L902.66 641.57 L899.97 641.60 L898.11 641.63 L896.33 641.66 L894.62 641.69 L892.95 641.73 L891.33 641.77 L889.75 641.81 L888.19 641.87 L886.65 641.93 L885.12 642.00 L883.58 642.08 L882.04 642.17 L880.47 642.27 L878.88 642.38 L877.24 642.51 L875.56 642.65 L873.82 642.81 L871.69 643.02 L869.52 643.25 L867.31 643.51 L865.07 643.78 L862.80 644.07 L860.51 644.37 L858.20 644.69 L855.87 645.02 L853.52 645.37 L851.17 645.73 L848.82 646.09 L846.47 646.47 L844.12 646.85 L841.78 647.24 L839.45 647.63 L837.14 648.03 L834.80 648.44 L832.48 648.87 L830.16 649.30 L827.86 649.74 L825.56 650.20 L823.26 650.66 L820.95 651.13 L818.64 651.61 L816.32 652.10 L813.99 652.60 L811.64 653.10 L809.26 653.62 L806.87 654.14 L804.44 654.67 L801.98 655.21 L799.49 655.76 L796.56 656.41 L793.57 657.08 L790.53 657.76 L787.46 658.46 L784.35 659.17 L781.22 659.89 L778.05 660.62 L774.87 661.36 L771.68 662.11 L768.47 662.87 L765.27 663.64 L762.06 664.42 L758.86 665.20 L755.68 665.99 L752.51 666.78 L749.37 667.58 L746.22 668.40 L743.05 669.23 L739.86 670.06 L736.66 670.91 L733.45 671.76 L730.24 672.63 L727.04 673.50 L723.84 674.37 L720.66 675.26 L717.49 676.15 L714.36 677.04 L711.25 677.95 L708.18 678.86 L705.15 679.77 L702.17 680.69 L699.24 681.62 L696.71 682.43 L694.19 683.24 L691.68 684.05 L689.18 684.87 L686.70 685.69 L684.24 686.51 L681.81 687.34 L679.39 688.18 L677.01 689.02 L674.67 689.87 L672.36 690.74 L670.09 691.61 L667.86 692.49 L665.68 693.39 L663.54 694.30 L661.48 695.22 L659.86 695.95 L658.27 696.66 L656.70 697.37 L655.13 698.07 L653.59 698.78 L652.06 699.49 L650.55 700.22 L649.07 700.97 L647.61 701.74 L646.18 702.53 L644.77 703.36 L643.40 704.22 L642.07 705.13 L640.77 706.09 L639.51 707.10 L638.31 708.16 L637.25 709.17 L636.23 710.22 L635.26 711.29 L634.33 712.40 L633.44 713.53 L632.58 714.68 L631.76 715.85 L630.97 717.05 L630.22 718.25 L629.49 719.48 L628.80 720.71 L628.13 721.95 L627.49 723.21 L626.88 724.46 L626.28 725.72 L625.71 726.99 L625.15 728.30 L624.63 729.61 L624.14 730.92 L623.68 732.23 L623.25 733.55 L622.86 734.89 L622.49 736.23 L622.15 737.60 L621.83 738.99 L621.53 740.40 L621.25 741.85 L620.98 743.33 L620.73 744.84 L620.48 746.40 L620.25 748.01 L620.02 749.69 L619.71 752.32 L619.47 755.14 L619.28 758.11 L619.13 761.20 L619.03 764.39 L618.97 767.66 L618.93 771.00 L618.92 774.37 L618.93 777.76 L618.94 781.14 L618.97 784.49 L619.00 787.79 L619.02 791.01 L619.03 794.12 L619.03 797.12 L619.00 799.96 L618.95 802.20 L618.88 804.46 L618.78 806.75 L618.67 809.04 L618.55 811.33 L618.43 813.60 L618.31 815.85 L618.21 818.05 L618.13 820.21 L618.08 822.30 L618.06 824.32 L618.09 826.26 L618.17 828.11 L618.31 829.87 L618.52 831.52 L618.80 833.01 L618.98 833.76 L619.16 834.42 L619.35 835.07 L619.55 835.70 L619.76 836.31 L619.99 836.89 L620.23 837.46 L620.49 838.02 L620.77 838.55 L621.07 839.07 L621.39 839.57 L621.73 840.06 L622.09 840.52 L622.47 840.97 L622.86 841.40 L623.28 841.82 L623.69 842.19 L624.10 842.53 L624.53 842.84 L624.96 843.13 L625.40 843.39 L625.85 843.62 L626.31 843.83 L626.78 844.02 L627.25 844.19 L627.73 844.35 L628.24 844.51 L628.77 844.67 L629.33 844.83 L629.94 845.00 L630.59 845.19 L631.36 845.42 L635.78 846.55 L641.74 847.86 L649.04 849.30 L657.56 850.88 L667.14 852.57 L677.64 854.37 L688.90 856.24 L700.78 858.19 L713.11 860.18 L725.76 862.21 L738.57 864.26 L751.38 866.31 L764.04 868.35 L776.40 870.36 L788.31 872.32 L799.62 874.22 L811.63 876.23 L823.72 878.27 L835.89 880.31 L848.14 882.37 L860.47 884.45 L872.86 886.53 L885.32 888.62 L897.84 890.72 L910.42 892.82 L923.05 894.93 L935.73 897.04 L948.46 899.15 L961.23 901.26 L974.03 903.37 L986.87 905.48 L999.74 907.58 L1013.44 909.81 L1027.24 912.05 L1041.12 914.28 L1055.08 916.52 L1069.10 918.77 L1083.18 921.01 L1097.30 923.26 L1111.46 925.50 L1125.64 927.75 L1139.84 930.00 L1154.05 932.25 L1168.25 934.50 L1182.44 936.75 L1196.61 938.99 L1210.75 941.24 L1224.84 943.49 L1225.16 941.51 L1211.08 939.19 L1196.95 936.87 L1182.80 934.55 L1168.62 932.23 L1154.43 929.90 L1140.23 927.58 L1126.04 925.26 L1111.87 922.94 L1097.72 920.62 L1083.61 918.30 L1069.55 915.98 L1055.54 913.66 L1041.60 911.35 L1027.73 909.04 L1013.95 906.73 L1000.26 904.42 L987.41 902.24 L974.59 900.06 L961.80 897.87 L949.05 895.68 L936.34 893.48 L923.67 891.29 L911.05 889.11 L898.49 886.92 L885.98 884.74 L873.54 882.57 L861.16 880.41 L848.85 878.26 L836.61 876.12 L824.45 873.99 L812.37 871.88 L800.38 869.78 L789.06 867.85 L777.14 865.86 L764.78 863.82 L752.12 861.75 L739.31 859.67 L726.51 857.59 L713.87 855.52 L701.55 853.50 L689.69 851.53 L678.44 849.62 L667.98 847.80 L658.43 846.08 L649.97 844.49 L642.75 843.02 L636.93 841.72 L632.64 840.58 L631.98 840.39 L631.32 840.20 L630.72 840.03 L630.18 839.87 L629.69 839.73 L629.27 839.59 L628.89 839.47 L628.57 839.35 L628.28 839.24 L628.04 839.12 L627.82 839.01 L627.61 838.89 L627.40 838.75 L627.19 838.59 L626.96 838.40 L626.72 838.18 L626.46 837.93 L626.21 837.66 L625.98 837.39 L625.76 837.10 L625.55 836.80 L625.35 836.49 L625.16 836.15 L624.97 835.79 L624.79 835.41 L624.62 835.01 L624.45 834.58 L624.29 834.11 L624.13 833.62 L623.98 833.09 L623.83 832.53 L623.70 831.99 L623.46 830.74 L623.28 829.36 L623.16 827.81 L623.09 826.12 L623.06 824.31 L623.08 822.38 L623.13 820.36 L623.21 818.26 L623.31 816.09 L623.42 813.86 L623.54 811.59 L623.66 809.29 L623.77 806.97 L623.87 804.65 L623.95 802.33 L624.00 800.04 L624.03 797.14 L624.03 794.12 L624.02 790.98 L624.00 787.75 L623.97 784.45 L623.94 781.11 L623.93 777.74 L623.92 774.38 L623.93 771.03 L623.97 767.74 L624.03 764.52 L624.13 761.39 L624.27 758.38 L624.45 755.52 L624.69 752.83 L624.98 750.31 L625.20 748.71 L625.43 747.15 L625.66 745.64 L625.91 744.18 L626.16 742.77 L626.43 741.40 L626.71 740.07 L627.01 738.77 L627.33 737.50 L627.67 736.26 L628.03 735.03 L628.42 733.82 L628.84 732.61 L629.29 731.42 L629.77 730.22 L630.29 729.01 L630.83 727.81 L631.38 726.62 L631.96 725.44 L632.56 724.27 L633.18 723.12 L633.82 721.98 L634.49 720.85 L635.18 719.75 L635.89 718.66 L636.63 717.61 L637.40 716.57 L638.20 715.56 L639.03 714.59 L639.88 713.64 L640.77 712.72 L641.69 711.84 L642.73 710.92 L643.82 710.05 L644.96 709.21 L646.14 708.41 L647.38 707.63 L648.66 706.87 L649.99 706.13 L651.35 705.41 L652.76 704.71 L654.21 704.01 L655.69 703.32 L657.20 702.62 L658.75 701.93 L660.32 701.22 L661.91 700.51 L663.52 699.78 L665.54 698.88 L667.61 698.00 L669.73 697.13 L671.90 696.27 L674.13 695.41 L676.39 694.57 L678.70 693.73 L681.05 692.90 L683.43 692.07 L685.84 691.25 L688.28 690.43 L690.74 689.62 L693.23 688.81 L695.73 688.00 L698.24 687.19 L700.76 686.38 L703.66 685.47 L706.61 684.55 L709.61 683.65 L712.66 682.75 L715.74 681.85 L718.86 680.96 L722.00 680.07 L725.17 679.19 L728.35 678.32 L731.55 677.45 L734.74 676.59 L737.94 675.74 L741.14 674.90 L744.32 674.06 L747.48 673.24 L750.63 672.42 L753.75 671.60 L756.90 670.79 L760.06 669.98 L763.24 669.17 L766.43 668.38 L769.62 667.59 L772.80 666.80 L775.98 666.03 L779.15 665.27 L782.30 664.51 L785.42 663.77 L788.52 663.04 L791.58 662.32 L794.60 661.61 L797.58 660.92 L800.51 660.24 L802.99 659.66 L805.44 659.09 L807.86 658.52 L810.24 657.96 L812.60 657.41 L814.94 656.87 L817.25 656.34 L819.56 655.81 L821.85 655.30 L824.13 654.79 L826.41 654.30 L828.68 653.81 L830.96 653.33 L833.25 652.87 L835.55 652.41 L837.86 651.97 L840.15 651.54 L842.46 651.11 L844.78 650.68 L847.11 650.27 L849.44 649.85 L851.78 649.45 L854.11 649.06 L856.43 648.68 L858.74 648.31 L861.03 647.96 L863.30 647.62 L865.54 647.30 L867.75 646.99 L869.93 646.70 L872.08 646.44 L874.18 646.19 L875.89 646.00 L877.55 645.82 L879.16 645.66 L880.73 645.51 L882.27 645.37 L883.80 645.25 L885.31 645.13 L886.82 645.02 L888.34 644.93 L889.88 644.84 L891.45 644.75 L893.06 644.67 L894.71 644.60 L896.41 644.53 L898.19 644.46 L900.03 644.40 L902.70 644.32 L905.49 644.26 L908.37 644.22 L911.36 644.19 L914.42 644.18 L917.55 644.18 L920.74 644.18 L923.97 644.20 L927.23 644.23 L930.51 644.26 L933.81 644.30 L937.10 644.34 L940.37 644.38 L943.62 644.42 L946.82 644.46 L949.98 644.50 L953.11 644.55 L956.23 644.60 L959.36 644.65 L962.48 644.70 L965.61 644.76 L968.73 644.81 L971.86 644.88 L974.98 644.95 L978.10 645.02 L981.23 645.10 L984.35 645.20 L987.47 645.29 L990.59 645.40 L993.72 645.52 L996.84 645.65 L999.96 645.80 L1003.05 645.96 L1006.09 646.14 L1009.08 646.32 L1012.05 646.51 L1015.00 646.72 L1017.95 646.93 L1020.90 647.15 L1023.88 647.38 L1026.88 647.61 L1029.94 647.85 L1033.05 648.10 L1036.24 648.36 L1039.51 648.62 L1042.87 648.89 L1046.35 649.17 L1049.94 649.45 L1055.27 649.86 L1060.87 650.30 L1066.70 650.76 L1072.74 651.24 L1078.96 651.74 L1085.33 652.25 L1091.80 652.77 L1098.36 653.30 L1104.97 653.84 L1111.59 654.38 L1118.20 654.93 L1124.77 655.48 L1131.26 656.03 L1137.64 656.58 L1143.87 657.12 L1149.94 657.65 L1155.38 658.14 L1160.77 658.63 L1166.10 659.12 L1171.40 659.62 L1176.66 660.12 L1181.89 660.62 L1187.09 661.12 L1192.28 661.62 L1197.45 662.12 L1202.61 662.63 L1207.76 663.13 L1212.92 663.64 L1218.09 664.14 L1223.27 664.64 L1228.47 665.15 L1233.69 665.65 Z"/><path d="M1425.82 568.37 L1422.94 569.16 L1420.06 569.94 L1417.17 570.72 L1414.28 571.49 L1411.39 572.27 L1408.50 573.05 L1405.62 573.83 L1402.73 574.60 L1399.84 575.39 L1396.95 576.17 L1394.07 576.95 L1391.19 577.74 L1388.31 578.54 L1385.43 579.33 L1382.56 580.14 L1379.69 580.94 L1376.85 581.76 L1374.00 582.58 L1371.15 583.41 L1368.30 584.25 L1365.45 585.09 L1362.61 585.93 L1359.76 586.78 L1356.92 587.62 L1354.09 588.47 L1351.27 589.32 L1348.45 590.16 L1345.65 591.00 L1342.86 591.84 L1340.08 592.67 L1337.32 593.50 L1334.58 594.31 L1332.00 595.07 L1329.44 595.83 L1326.89 596.58 L1324.35 597.32 L1321.81 598.06 L1319.29 598.79 L1316.77 599.53 L1314.27 600.26 L1311.77 601.00 L1309.27 601.73 L1306.79 602.48 L1304.31 603.22 L1301.83 603.98 L1299.36 604.74 L1296.90 605.51 L1294.44 606.29 L1292.05 607.04 L1289.61 607.79 L1287.13 608.54 L1284.63 609.29 L1282.10 610.04 L1279.58 610.79 L1277.07 611.55 L1274.58 612.33 L1272.13 613.11 L1269.73 613.91 L1267.38 614.72 L1265.11 615.56 L1262.93 616.41 L1260.84 617.30 L1258.85 618.21 L1257.01 619.15 L1255.82 619.81 L1254.69 620.47 L1253.61 621.14 L1252.56 621.81 L1251.56 622.50 L1250.59 623.19 L1249.66 623.89 L1248.76 624.59 L1247.88 625.31 L1247.03 626.02 L1246.21 626.75 L1245.41 627.48 L1244.63 628.21 L1243.87 628.95 L1243.12 629.69 L1242.38 630.44 L1241.75 631.09 L1241.13 631.75 L1240.52 632.41 L1239.92 633.07 L1239.32 633.74 L1238.74 634.43 L1238.18 635.12 L1237.62 635.82 L1237.09 636.54 L1236.57 637.28 L1236.07 638.04 L1235.59 638.81 L1235.13 639.61 L1234.70 640.43 L1234.30 641.27 L1233.92 642.15 L1233.53 643.14 L1233.19 644.16 L1232.88 645.21 L1232.60 646.27 L1232.36 647.35 L1232.14 648.45 L1231.95 649.55 L1231.79 650.67 L1231.65 651.78 L1231.54 652.90 L1231.44 654.02 L1231.37 655.14 L1231.32 656.25 L1231.28 657.35 L1231.26 658.43 L1231.25 659.49 L1231.25 660.54 L1231.26 661.59 L1231.27 662.64 L1231.30 663.71 L1231.34 664.78 L1231.41 665.86 L1231.49 666.95 L1231.60 668.04 L1231.75 669.14 L1231.93 670.24 L1232.14 671.35 L1232.40 672.46 L1232.71 673.57 L1233.07 674.69 L1233.48 675.81 L1233.95 676.92 L1234.59 678.29 L1235.31 679.67 L1236.11 681.07 L1236.97 682.47 L1237.90 683.88 L1238.88 685.28 L1239.93 686.67 L1241.02 688.05 L1242.16 689.41 L1243.35 690.74 L1244.57 692.03 L1245.83 693.29 L1247.13 694.51 L1248.45 695.67 L1249.80 696.78 L1251.18 697.82 L1252.69 698.87 L1254.26 699.84 L1255.86 700.74 L1257.51 701.57 L1259.19 702.35 L1260.90 703.08 L1262.64 703.76 L1264.41 704.41 L1266.20 705.03 L1268.02 705.63 L1269.86 706.21 L1271.72 706.78 L1273.59 707.36 L1275.48 707.94 L1277.39 708.53 L1279.32 709.15 L1281.82 709.92 L1284.43 710.69 L1287.14 711.44 L1289.93 712.18 L1292.78 712.91 L1295.67 713.62 L1298.59 714.32 L1301.52 715.01 L1304.45 715.68 L1307.36 716.35 L1310.23 717.01 L1313.05 717.66 L1315.79 718.30 L1318.45 718.93 L1321.00 719.56 L1323.44 720.18 L1325.22 720.65 L1326.93 721.10 L1328.58 721.55 L1330.18 721.99 L1331.74 722.42 L1333.27 722.85 L1334.78 723.27 L1336.29 723.70 L1337.80 724.12 L1339.32 724.54 L1340.88 724.97 L1342.48 725.40 L1344.12 725.83 L1345.83 726.27 L1347.60 726.72 L1349.47 727.19 L1352.15 727.84 L1354.94 728.50 L1357.84 729.19 L1360.84 729.88 L1363.91 730.58 L1367.04 731.29 L1370.24 732.01 L1373.48 732.72 L1376.75 733.44 L1380.04 734.15 L1383.34 734.86 L1386.64 735.55 L1389.92 736.24 L1393.18 736.91 L1396.39 737.57 L1399.56 738.21 L1402.68 738.82 L1405.81 739.43 L1408.93 740.03 L1412.06 740.63 L1415.19 741.22 L1418.32 741.81 L1421.45 742.38 L1424.58 742.95 L1427.72 743.51 L1430.85 744.06 L1433.99 744.59 L1437.13 745.12 L1440.27 745.63 L1443.41 746.12 L1446.55 746.61 L1449.69 747.08 L1452.81 747.53 L1455.92 747.97 L1459.01 748.39 L1462.10 748.80 L1465.19 749.19 L1468.28 749.57 L1471.36 749.94 L1474.46 750.31 L1477.56 750.66 L1480.67 751.01 L1483.80 751.34 L1486.95 751.68 L1490.12 752.01 L1493.32 752.34 L1496.54 752.66 L1499.80 752.99 L1503.45 753.35 L1507.26 753.74 L1511.19 754.14 L1515.20 754.55 L1519.28 754.96 L1523.39 755.36 L1527.51 755.76 L1531.60 756.14 L1535.64 756.49 L1539.59 756.82 L1543.44 757.11 L1547.14 757.36 L1550.68 757.56 L1554.02 757.70 L1557.14 757.79 L1559.99 757.80 L1561.48 757.79 L1562.90 757.77 L1564.26 757.75 L1565.58 757.73 L1566.86 757.69 L1568.10 757.64 L1569.31 757.58 L1570.48 757.50 L1571.63 757.40 L1572.76 757.28 L1573.86 757.13 L1574.95 756.95 L1576.03 756.75 L1577.09 756.51 L1578.15 756.24 L1579.20 755.93 L1580.06 755.64 L1580.91 755.34 L1581.74 755.02 L1582.55 754.67 L1583.35 754.31 L1584.14 753.93 L1584.91 753.54 L1585.66 753.12 L1586.40 752.69 L1587.12 752.24 L1587.82 751.77 L1588.51 751.29 L1589.17 750.79 L1589.83 750.27 L1590.46 749.74 L1591.08 749.18 L1591.66 748.62 L1592.20 748.05 L1592.70 747.48 L1593.16 746.89 L1593.58 746.30 L1593.99 745.71 L1594.37 745.10 L1594.75 744.49 L1595.12 743.86 L1595.50 743.22 L1595.88 742.56 L1596.29 741.88 L1596.72 741.17 L1597.18 740.44 L1597.68 739.67 L1598.23 738.86 L1599.55 736.98 L1601.03 734.89 L1602.65 732.60 L1604.39 730.13 L1606.24 727.52 L1608.18 724.78 L1610.20 721.94 L1612.27 719.02 L1614.39 716.03 L1616.55 713.01 L1618.71 709.98 L1620.87 706.95 L1623.01 703.95 L1625.12 701.00 L1627.18 698.12 L1629.18 695.35 L1631.15 692.60 L1633.13 689.86 L1635.12 687.12 L1637.11 684.37 L1639.10 681.63 L1641.10 678.88 L1643.10 676.14 L1645.10 673.39 L1647.11 670.65 L1649.11 667.90 L1651.12 665.15 L1653.12 662.41 L1655.13 659.66 L1657.13 656.92 L1659.13 654.17 L1661.13 651.43 L1658.87 649.77 L1656.86 652.52 L1654.86 655.26 L1652.85 658.00 L1650.84 660.74 L1648.83 663.48 L1646.82 666.22 L1644.81 668.97 L1642.80 671.71 L1640.79 674.45 L1638.79 677.19 L1636.78 679.94 L1634.78 682.68 L1632.79 685.42 L1630.79 688.17 L1628.81 690.91 L1626.82 693.65 L1624.82 696.43 L1622.76 699.30 L1620.64 702.25 L1618.49 705.24 L1616.32 708.27 L1614.15 711.31 L1612.00 714.33 L1609.87 717.31 L1607.79 720.23 L1605.76 723.07 L1603.82 725.80 L1601.96 728.41 L1600.21 730.87 L1598.59 733.16 L1597.11 735.26 L1595.77 737.14 L1595.18 737.98 L1594.64 738.79 L1594.14 739.55 L1593.68 740.29 L1593.26 740.98 L1592.86 741.64 L1592.47 742.27 L1592.11 742.86 L1591.75 743.43 L1591.39 743.97 L1591.03 744.48 L1590.66 744.97 L1590.27 745.44 L1589.86 745.91 L1589.41 746.36 L1588.92 746.82 L1588.37 747.29 L1587.80 747.76 L1587.22 748.21 L1586.61 748.64 L1586.00 749.07 L1585.36 749.47 L1584.71 749.87 L1584.05 750.24 L1583.37 750.60 L1582.67 750.95 L1581.96 751.28 L1581.24 751.59 L1580.50 751.89 L1579.75 752.17 L1578.98 752.43 L1578.20 752.67 L1577.26 752.94 L1576.31 753.18 L1575.35 753.38 L1574.37 753.55 L1573.38 753.70 L1572.36 753.82 L1571.31 753.93 L1570.23 754.01 L1569.12 754.07 L1567.96 754.12 L1566.76 754.15 L1565.52 754.18 L1564.22 754.19 L1562.87 754.20 L1561.46 754.20 L1560.01 754.20 L1557.21 754.16 L1554.16 754.06 L1550.87 753.89 L1547.38 753.67 L1543.71 753.40 L1539.90 753.08 L1535.97 752.73 L1531.95 752.35 L1527.88 751.95 L1523.78 751.53 L1519.68 751.10 L1515.61 750.67 L1511.60 750.23 L1507.67 749.81 L1503.86 749.40 L1500.20 749.01 L1496.95 748.67 L1493.73 748.33 L1490.55 747.99 L1487.38 747.65 L1484.25 747.31 L1481.13 746.96 L1478.02 746.60 L1474.94 746.23 L1471.86 745.86 L1468.78 745.48 L1465.72 745.09 L1462.65 744.68 L1459.58 744.26 L1456.50 743.83 L1453.41 743.39 L1450.31 742.92 L1447.19 742.44 L1444.07 741.94 L1440.95 741.43 L1437.83 740.90 L1434.72 740.36 L1431.60 739.81 L1428.48 739.25 L1425.36 738.67 L1422.25 738.09 L1419.13 737.50 L1416.02 736.90 L1412.90 736.29 L1409.78 735.67 L1406.67 735.05 L1403.56 734.42 L1400.44 733.79 L1397.29 733.16 L1394.08 732.50 L1390.84 731.83 L1387.56 731.15 L1384.28 730.45 L1380.99 729.75 L1377.71 729.04 L1374.44 728.33 L1371.22 727.62 L1368.03 726.90 L1364.90 726.20 L1361.85 725.50 L1358.87 724.80 L1355.98 724.13 L1353.20 723.46 L1350.53 722.81 L1348.70 722.36 L1346.94 721.92 L1345.26 721.48 L1343.64 721.05 L1342.06 720.62 L1340.52 720.20 L1339.00 719.78 L1337.50 719.36 L1335.99 718.94 L1334.48 718.52 L1332.95 718.09 L1331.38 717.65 L1329.77 717.21 L1328.10 716.76 L1326.37 716.30 L1324.56 715.82 L1322.09 715.19 L1319.51 714.56 L1316.82 713.92 L1314.06 713.28 L1311.24 712.63 L1308.37 711.97 L1305.46 711.30 L1302.54 710.62 L1299.63 709.94 L1296.73 709.24 L1293.87 708.54 L1291.06 707.83 L1288.32 707.10 L1285.67 706.36 L1283.12 705.62 L1280.68 704.85 L1278.74 704.24 L1276.81 703.64 L1274.91 703.06 L1273.04 702.48 L1271.20 701.92 L1269.40 701.34 L1267.64 700.76 L1265.92 700.17 L1264.24 699.55 L1262.60 698.91 L1261.01 698.23 L1259.47 697.52 L1257.98 696.77 L1256.54 695.96 L1255.16 695.10 L1253.82 694.18 L1252.59 693.24 L1251.36 692.24 L1250.15 691.17 L1248.96 690.06 L1247.80 688.90 L1246.66 687.69 L1245.56 686.46 L1244.50 685.20 L1243.49 683.93 L1242.53 682.64 L1241.62 681.34 L1240.77 680.06 L1239.98 678.78 L1239.26 677.52 L1238.62 676.28 L1238.05 675.08 L1237.66 674.16 L1237.32 673.23 L1237.02 672.29 L1236.76 671.35 L1236.54 670.40 L1236.36 669.45 L1236.20 668.48 L1236.07 667.51 L1235.97 666.54 L1235.90 665.55 L1235.84 664.56 L1235.80 663.56 L1235.77 662.56 L1235.76 661.54 L1235.75 660.52 L1235.75 659.51 L1235.76 658.49 L1235.78 657.47 L1235.81 656.43 L1235.86 655.40 L1235.93 654.36 L1236.02 653.32 L1236.12 652.29 L1236.25 651.26 L1236.40 650.25 L1236.57 649.26 L1236.76 648.29 L1236.97 647.34 L1237.21 646.42 L1237.48 645.53 L1237.77 644.67 L1238.08 643.85 L1238.39 643.14 L1238.72 642.45 L1239.08 641.77 L1239.46 641.11 L1239.86 640.46 L1240.29 639.82 L1240.73 639.18 L1241.20 638.55 L1241.69 637.93 L1242.20 637.31 L1242.72 636.69 L1243.27 636.07 L1243.83 635.45 L1244.41 634.83 L1245.01 634.20 L1245.62 633.56 L1246.32 632.83 L1247.02 632.11 L1247.72 631.40 L1248.45 630.70 L1249.18 630.01 L1249.93 629.32 L1250.70 628.64 L1251.50 627.97 L1252.32 627.31 L1253.16 626.65 L1254.04 626.00 L1254.96 625.36 L1255.91 624.72 L1256.90 624.09 L1257.93 623.46 L1258.99 622.85 L1260.70 621.94 L1262.53 621.06 L1264.50 620.19 L1266.58 619.33 L1268.76 618.49 L1271.03 617.66 L1273.38 616.84 L1275.78 616.04 L1278.23 615.24 L1280.71 614.45 L1283.21 613.66 L1285.72 612.87 L1288.22 612.09 L1290.71 611.30 L1293.16 610.51 L1295.56 609.71 L1297.99 608.89 L1300.43 608.08 L1302.88 607.29 L1305.33 606.49 L1307.78 605.71 L1310.25 604.93 L1312.73 604.15 L1315.21 603.37 L1317.70 602.60 L1320.20 601.82 L1322.71 601.04 L1325.23 600.26 L1327.76 599.48 L1330.31 598.69 L1332.86 597.89 L1335.42 597.09 L1338.16 596.23 L1340.91 595.36 L1343.67 594.49 L1346.45 593.61 L1349.24 592.72 L1352.04 591.84 L1354.85 590.95 L1357.67 590.06 L1360.50 589.17 L1363.32 588.29 L1366.16 587.40 L1368.99 586.52 L1371.82 585.64 L1374.66 584.77 L1377.48 583.91 L1380.31 583.06 L1383.16 582.19 L1386.01 581.34 L1388.87 580.49 L1391.73 579.64 L1394.59 578.80 L1397.46 577.96 L1400.33 577.12 L1403.20 576.29 L1406.07 575.46 L1408.94 574.63 L1411.82 573.80 L1414.69 572.96 L1417.57 572.13 L1420.44 571.30 L1423.31 570.46 L1426.18 569.63 Z"/><path d="M1284.73 711.91 L1283.79 712.34 L1282.84 712.77 L1281.90 713.19 L1280.95 713.62 L1280.01 714.04 L1279.06 714.47 L1278.11 714.90 L1277.16 715.32 L1276.22 715.75 L1275.27 716.18 L1274.33 716.61 L1273.39 717.05 L1272.45 717.49 L1271.52 717.93 L1270.59 718.38 L1269.67 718.83 L1268.75 719.25 L1267.83 719.67 L1266.90 720.08 L1265.96 720.50 L1265.02 720.92 L1264.08 721.34 L1263.15 721.77 L1262.21 722.20 L1261.29 722.64 L1260.37 723.09 L1259.48 723.55 L1258.59 724.02 L1257.73 724.50 L1256.89 725.00 L1256.07 725.51 L1255.29 726.03 L1254.64 726.46 L1254.02 726.89 L1253.40 727.33 L1252.80 727.76 L1252.20 728.21 L1251.62 728.67 L1251.05 729.13 L1250.49 729.60 L1249.95 730.09 L1249.41 730.59 L1248.88 731.11 L1248.37 731.64 L1247.87 732.19 L1247.37 732.75 L1246.89 733.34 L1246.42 733.95 L1245.94 734.62 L1245.47 735.32 L1245.02 736.03 L1244.59 736.77 L1244.17 737.51 L1243.77 738.27 L1243.39 739.05 L1243.02 739.83 L1242.66 740.63 L1242.32 741.43 L1242.00 742.25 L1241.68 743.07 L1241.39 743.89 L1241.10 744.72 L1240.83 745.55 L1240.57 746.39 L1240.35 747.30 L1240.14 748.18 L1239.96 749.05 L1239.80 749.91 L1239.67 750.77 L1239.55 751.63 L1239.45 752.49 L1239.36 753.37 L1239.28 754.28 L1239.21 755.21 L1239.14 756.18 L1239.08 757.19 L1239.02 758.26 L1238.95 759.38 L1238.88 760.58 L1238.80 761.88 L1238.65 765.38 L1238.53 769.39 L1238.43 773.84 L1238.36 778.69 L1238.31 783.88 L1238.28 789.38 L1238.26 795.12 L1238.26 801.07 L1238.26 807.17 L1238.27 813.38 L1238.29 819.63 L1238.30 825.89 L1238.31 832.11 L1238.32 838.23 L1238.32 844.21 L1238.30 849.99 L1238.28 856.08 L1238.27 862.22 L1238.26 868.42 L1238.25 874.67 L1238.24 880.95 L1238.23 887.26 L1238.22 893.59 L1238.22 899.92 L1238.21 906.26 L1238.21 912.60 L1238.20 918.92 L1238.20 925.22 L1238.20 931.48 L1238.20 937.70 L1238.20 943.88 L1238.20 950.00 L1238.26 955.75 L1238.32 961.48 L1238.37 967.18 L1238.43 972.86 L1238.49 978.51 L1238.55 984.14 L1238.62 989.76 L1238.68 995.36 L1238.74 1000.95 L1238.80 1006.53 L1238.87 1012.11 L1238.93 1017.68 L1239.00 1023.26 L1239.07 1028.83 L1239.13 1034.41 L1239.20 1040.00 L1239.25 1045.70 L1239.30 1051.69 L1239.34 1057.91 L1239.38 1064.28 L1239.42 1070.74 L1239.46 1077.22 L1239.50 1083.65 L1239.55 1089.97 L1239.60 1096.09 L1239.65 1101.96 L1239.71 1107.51 L1239.79 1112.67 L1239.87 1117.37 L1239.97 1121.54 L1240.08 1125.11 L1240.20 1128.02 L1240.23 1128.77 L1240.26 1129.44 L1240.29 1130.07 L1240.32 1130.65 L1240.36 1131.18 L1240.39 1131.68 L1240.43 1132.15 L1240.46 1132.59 L1240.50 1133.02 L1240.54 1133.44 L1240.57 1133.85 L1240.61 1134.26 L1240.64 1134.68 L1240.68 1135.11 L1240.72 1135.57 L1240.75 1136.05 L1242.25 1135.95 L1242.22 1135.46 L1242.19 1135.00 L1242.16 1134.56 L1242.13 1134.14 L1242.10 1133.73 L1242.07 1133.31 L1242.04 1132.90 L1242.01 1132.48 L1241.98 1132.04 L1241.95 1131.58 L1241.92 1131.09 L1241.90 1130.56 L1241.87 1129.99 L1241.84 1129.38 L1241.82 1128.71 L1241.80 1127.98 L1241.78 1125.08 L1241.77 1121.51 L1241.77 1117.35 L1241.79 1112.66 L1241.81 1107.51 L1241.85 1101.96 L1241.90 1096.09 L1241.95 1089.97 L1242.00 1083.66 L1242.06 1077.23 L1242.12 1070.75 L1242.18 1064.29 L1242.24 1057.91 L1242.30 1051.69 L1242.35 1045.70 L1242.40 1040.00 L1242.46 1034.41 L1242.52 1028.83 L1242.57 1023.25 L1242.63 1017.68 L1242.69 1012.11 L1242.75 1006.53 L1242.82 1000.95 L1242.88 995.36 L1242.94 989.76 L1243.00 984.14 L1243.07 978.51 L1243.13 972.86 L1243.20 967.18 L1243.27 961.49 L1243.33 955.76 L1243.40 950.00 L1243.41 943.88 L1243.42 937.71 L1243.44 931.49 L1243.45 925.22 L1243.47 918.93 L1243.48 912.61 L1243.50 906.27 L1243.52 899.93 L1243.53 893.60 L1243.55 887.27 L1243.58 880.96 L1243.60 874.68 L1243.62 868.44 L1243.65 862.24 L1243.67 856.09 L1243.70 850.01 L1243.72 844.22 L1243.72 838.23 L1243.71 832.10 L1243.70 825.88 L1243.69 819.62 L1243.67 813.37 L1243.66 807.17 L1243.66 801.07 L1243.66 795.13 L1243.68 789.40 L1243.71 783.92 L1243.76 778.75 L1243.83 773.94 L1243.92 769.53 L1244.05 765.58 L1244.20 762.12 L1244.25 760.85 L1244.29 759.64 L1244.34 758.51 L1244.37 757.45 L1244.41 756.45 L1244.45 755.52 L1244.49 754.63 L1244.54 753.79 L1244.60 752.98 L1244.67 752.21 L1244.75 751.45 L1244.84 750.70 L1244.96 749.95 L1245.09 749.19 L1245.24 748.41 L1245.43 747.61 L1245.59 746.83 L1245.77 746.05 L1245.96 745.28 L1246.16 744.51 L1246.37 743.74 L1246.60 742.98 L1246.84 742.23 L1247.09 741.49 L1247.36 740.76 L1247.64 740.04 L1247.93 739.34 L1248.23 738.65 L1248.55 737.97 L1248.88 737.32 L1249.22 736.68 L1249.58 736.05 L1249.92 735.49 L1250.27 734.93 L1250.64 734.39 L1251.01 733.86 L1251.41 733.33 L1251.81 732.82 L1252.23 732.32 L1252.67 731.82 L1253.12 731.33 L1253.58 730.84 L1254.06 730.36 L1254.56 729.87 L1255.07 729.40 L1255.60 728.92 L1256.15 728.44 L1256.71 727.97 L1257.41 727.43 L1258.13 726.91 L1258.89 726.40 L1259.69 725.90 L1260.51 725.40 L1261.35 724.91 L1262.21 724.42 L1263.09 723.94 L1263.98 723.47 L1264.89 723.00 L1265.80 722.53 L1266.71 722.06 L1267.62 721.59 L1268.54 721.12 L1269.44 720.65 L1270.33 720.17 L1271.25 719.71 L1272.16 719.26 L1273.08 718.81 L1274.01 718.36 L1274.94 717.92 L1275.87 717.47 L1276.81 717.03 L1277.75 716.59 L1278.69 716.16 L1279.63 715.72 L1280.57 715.28 L1281.51 714.85 L1282.46 714.41 L1283.40 713.97 L1284.34 713.53 L1285.27 713.09 Z"/></g>
<g stroke="#6b6b6b" stroke-width="3"><path d="M911.0 526.0 C907.00 529.33 902.56 531.68 899.00 536.00 C894.69 541.22 890.99 548.22 888.00 556.00 C884.30 565.63 882.10 577.81 880.00 590.00 C877.60 603.88 876.67 620.00 875.00 635.00"/><path d="M241.0 770.0 C241.17 780.00 241.32 787.45 241.50 800.00 C241.80 821.12 240.86 869.33 242.50 885.00 C243.14 891.07 244.17 893.33 245.00 897.50"/><path d="M1647.0 957.0 L1648.0 999.5 L1636.0 1001.5"/></g>
<g stroke="#555" stroke-width="1.3"><path d="M913.5 441.0 C912.00 448.00 910.22 454.60 909.00 462.00 C907.66 470.17 906.29 479.68 906.00 488.00 C905.73 495.63 905.98 503.42 907.00 510.00 C907.85 515.53 909.67 520.00 911.00 525.00"/><path d="M1387.0 345.0 C1384.67 350.00 1381.80 354.52 1380.00 360.00 C1378.01 366.08 1377.09 371.26 1376.00 380.00 C1373.99 396.20 1373.00 426.66 1372.50 450.00 C1372.00 473.33 1372.08 504.31 1373.00 520.00 C1373.47 527.98 1372.36 536.63 1375.00 538.00 C1377.09 539.09 1381.67 534.33 1385.00 532.50"/><path d="M1375.0 580.0 C1375.83 571.67 1374.42 561.50 1377.50 555.00 C1380.08 549.55 1384.73 545.26 1390.00 542.50 C1395.93 539.39 1404.67 539.83 1412.00 538.50"/><path d="M1204.4 764.4 C1206.93 765.93 1209.89 767.04 1212.00 769.00 C1214.08 770.92 1215.46 772.82 1217.00 776.00 C1219.58 781.31 1221.93 789.24 1223.70 799.00 C1226.64 815.22 1227.45 844.57 1228.70 865.00 C1229.78 882.68 1231.16 903.18 1231.00 914.50 C1230.92 920.42 1230.85 924.14 1230.00 928.00 C1229.33 931.07 1228.79 933.60 1227.00 936.00 C1224.83 938.90 1220.33 941.00 1217.00 943.50"/><path d="M478.0 622.0 C490.33 624.33 502.83 626.81 515.00 629.00 C526.82 631.13 535.27 633.75 550.00 635.00 C574.71 637.10 622.43 633.35 650.00 635.00 C669.57 636.17 686.34 637.77 700.00 641.00 C709.92 643.35 716.65 646.11 725.00 650.00 C734.14 654.26 743.33 660.67 752.50 666.00"/><path d="M847.0 653.0 C864.67 653.67 882.98 653.76 900.00 655.00 C915.90 656.16 932.49 657.65 946.00 660.00 C956.84 661.89 965.79 664.06 975.00 667.00 C983.75 669.79 991.67 673.67 1000.00 677.00"/><path d="M977.5 677.5 C988.33 676.00 998.58 673.72 1010.00 673.00 C1022.61 672.21 1033.68 672.79 1050.00 673.50 C1075.84 674.63 1122.41 678.31 1150.00 681.00 C1169.55 682.91 1183.77 685.03 1200.00 687.00 C1215.40 688.86 1230.00 690.67 1245.00 692.50"/><path d="M615.0 695.0 C618.33 697.67 622.13 699.78 625.00 703.00 C628.01 706.39 630.00 711.00 632.50 715.00"/><path d="M159.0 536.0 C176.00 541.33 196.29 545.84 210.00 552.00 C220.13 556.55 229.88 560.17 235.00 567.00 C239.62 573.17 240.80 583.13 241.00 590.00 C241.16 595.51 240.49 600.68 238.00 605.00 C235.35 609.60 229.33 612.67 225.00 616.50"/><path d="M245.0 563.0 L542.5 539.0"/><path d="M246.0 631.5 L525.0 600.0"/><path d="M126.0 620.0 C144.00 620.33 163.39 619.61 180.00 621.00 C194.37 622.21 209.21 623.35 220.00 627.00 C228.10 629.74 236.66 633.29 240.00 638.00 C242.44 641.44 241.58 644.61 242.00 650.00 C242.85 660.94 241.67 683.33 241.50 700.00"/><path d="M1257.5 627.5 C1271.67 624.33 1283.79 621.21 1300.00 618.00 C1321.43 613.75 1349.92 608.00 1375.00 605.00 C1399.92 602.02 1427.52 600.52 1450.00 600.00 C1468.34 599.57 1482.45 599.57 1500.00 601.00 C1519.72 602.61 1546.00 603.68 1562.50 610.00 C1574.97 614.77 1586.02 620.21 1592.50 630.00 C1599.80 641.03 1600.18 659.95 1601.00 675.00 C1601.82 689.95 1601.16 706.83 1597.50 720.00 C1594.35 731.36 1588.77 744.06 1582.50 750.00 C1578.12 754.15 1572.50 754.33 1567.50 756.50"/><path d="M1655.0 556.0 L1587.5 615.0"/><path d="M1600.0 765.0 L1670.0 660.0"/><path d="M1050.0 673.8 C1083.33 675.83 1117.15 676.82 1150.00 680.00 C1182.13 683.11 1213.33 688.33 1245.00 692.50"/><path d="M1252.5 734.0 C1301.67 737.67 1355.60 741.68 1400.00 745.00 C1436.56 747.73 1469.08 749.79 1500.00 752.50 C1526.81 754.85 1558.52 753.58 1575.00 760.00 C1584.49 763.70 1590.50 766.11 1595.00 775.00 C1604.00 792.78 1596.32 836.50 1596.00 875.00 C1595.56 927.66 1592.88 1016.22 1591.00 1062.00 C1589.91 1088.59 1588.67 1104.00 1587.50 1125.00"/></g>
<g stroke="#5a5a5a" stroke-width="2"><path d="M155.0 880.0 L155.0 920.0 L155.0 920.0 C156.00 921.17 156.73 923.13 158.00 923.50 C159.36 923.90 161.33 922.50 163.00 922.00"/><path d="M167.5 882.0 L167.5 910.0 L235.0 927.5"/><path d="M163.0 922.0 L240.0 942.0"/><path d="M237.5 898.0 L237.5 940.0 L237.5 940.0 C238.67 941.33 239.34 943.36 241.00 944.00 C243.16 944.84 247.00 943.33 250.00 943.00"/><path d="M250.0 900.0 L250.0 943.0"/><path d="M1262.5 1152.0 L1262.5 1219.0 L1262.5 1219.0 C1264.33 1220.33 1265.66 1222.35 1268.00 1223.00 C1271.11 1223.87 1276.00 1222.33 1280.00 1222.00"/><path d="M1280.0 1156.0 L1280.0 1222.0"/><path d="M1283.0 1158.0 L1283.0 1203.5 L1488.5 1255.0"/><path d="M1280.0 1222.0 L1488.5 1276.0"/><path d="M1280.0 1208.0 L1488.5 1261.0"/><path d="M1488.5 1208.0 L1488.5 1283.0 L1488.5 1283.0 C1490.67 1284.17 1492.29 1286.05 1495.00 1286.50 C1498.89 1287.14 1505.00 1284.83 1510.00 1284.00"/><path d="M1510.0 1210.0 L1510.0 1284.0"/><path d="M160.0 883.0 L160.0 918.0"/><path d="M167.5 915.0 L237.5 933.0"/></g>
<g stroke="#3c3c3c" stroke-width="2"><path d="M109.0 289.0 L109.0 569.0"/><path d="M534.0 281.0 L534.0 511.0"/><path d="M1684.0 228.0 L1684.0 590.0"/><path d="M1382.0 335.0 L1842.0 335.0"/><path d="M1630.0 541.5 L1746.0 544.0"/><path d="M1634.0 1002.0 L1842.0 1024.5"/><path d="M243.0 945.0 L286.0 956.0"/></g>
<g stroke="#e3171f" stroke-width="5" stroke-linecap="butt"><path d="M108.5 288.5 L534.0 279.0 L1684.0 227.0"/><path d="M1842.0 335.0 L1842.0 1025.0"/><path d="M1746.0 544.0 L1746.0 1013.5"/><path d="M1442.5 750.0 L1442.5 1196.0"/><path d="M776.3 712.0 L776.3 1086.0"/><path d="M285.5 913.0 L285.5 957.0"/><path d="M1315.0 337.5 L1295.0 540.0"/><path d="M1075.0 346.0 L1030.0 648.5 L776.3 712.0"/><path d="M275.0 652.5 L776.3 712.0 L1240.0 766.5"/><path d="M115.0 723.0 L233.0 739.5"/><path d="M1234.0 659.0 L1601.0 683.5"/><path d="M1375.0 437.5 L1397.5 442.5"/></g>
</g>
<g fill="#000" font-family="Liberation Sans, sans-serif"><g transform="translate(267.5 272.5) rotate(-1.10)"><g transform="scale(1.0069 1)" fill="none" stroke="#000" stroke-width="6.90" stroke-linecap="butt" stroke-linejoin="miter"><path d="M11.0 0 V-37 M11.6 -33.8 L1.4 -26.8" transform="translate(0.00 0)"/><path d="M3.45 -18.60 A8.30 15.35 0 1 1 20.05 -18.60 A8.30 15.35 0 1 1 3.45 -18.60 Z " transform="translate(25.95 0)"/><path d="M4.58 -24.68 A8.30 7.05 0 1 1 19.79 -22.98 L4.25 -3.95 M0 -3.45 H25.5" transform="translate(53.95 0)"/></g><path d="M24.92 -20.01 A12.60 12.60 0 1 0 24.92 -7.79 M36 0 V-26.20 M36 -15.5 C36 -23.5 40 -26.2 45.25 -26.2 C50.5 -26.2 54.5 -23.5 54.5 -15.5 V0 M54.5 -15.5 C54.5 -23.5 58.5 -26.2 63.75 -26.2 C69 -26.2 73 -23.5 73 -15.5 V0" fill="none" stroke="#000" stroke-width="2.80" stroke-linecap="butt" transform="translate(83.50 0) scale(1.0000)"/></g><g transform="translate(984.5 246.0) rotate(-2.50)"><g transform="scale(1.0133 1)" fill="none" stroke="#000" stroke-width="6.90" stroke-linecap="butt" stroke-linejoin="miter"><path d="M11.0 0 V-37 M11.6 -33.8 L1.4 -26.8" transform="translate(0.00 0)"/><path d="M3.45 -24.50 A8.30 9.05 0 1 1 20.05 -24.50 A8.30 9.05 0 1 1 3.45 -24.50 Z M19.75 -22.00 L5.4 0" transform="translate(25.95 0)"/><path d="M5.45 -28.00 A7.05 5.55 0 1 1 19.55 -28.00 A7.05 5.55 0 1 1 5.45 -28.00 Z M3.45 -11.00 A9.05 7.55 0 1 1 21.55 -11.00 A9.05 7.55 0 1 1 3.45 -11.00 Z " transform="translate(53.95 0)"/></g><path d="M24.92 -20.01 A12.60 12.60 0 1 0 24.92 -7.79 M36 0 V-26.20 M36 -15.5 C36 -23.5 40 -26.2 45.25 -26.2 C50.5 -26.2 54.5 -23.5 54.5 -15.5 V0 M54.5 -15.5 C54.5 -23.5 58.5 -26.2 63.75 -26.2 C69 -26.2 73 -23.5 73 -15.5 V0" fill="none" stroke="#000" stroke-width="2.78" stroke-linecap="butt" transform="translate(83.50 0) scale(1.0067)"/></g><g transform="translate(113.0 709.5) rotate(8.20)"><g transform="scale(0.9734 1)" fill="none" stroke="#000" stroke-width="6.90" stroke-linecap="butt" stroke-linejoin="miter"><path d="M6.08 -29.64 A7.30 6.25 0 1 1 12.85 -21.05 M10.4 -19.60 H12.32 M12.32 -19.15 A8.88 7.85 0 1 1 4.10 -8.36 " transform="translate(-0.20 0)"/><path d="M4.58 -24.68 A8.30 7.05 0 1 1 19.79 -22.98 L4.25 -3.95 M0 -3.45 H25.5" transform="translate(28.95 0)"/></g><path d="M24.92 -20.01 A12.60 12.60 0 1 0 24.92 -7.79 M36 0 V-26.20 M36 -15.5 C36 -23.5 40 -26.2 45.25 -26.2 C50.5 -26.2 54.5 -23.5 54.5 -15.5 V0 M54.5 -15.5 C54.5 -23.5 58.5 -26.2 63.75 -26.2 C69 -26.2 73 -23.5 73 -15.5 V0" fill="none" stroke="#000" stroke-width="2.81" stroke-linecap="butt" transform="translate(57.00 0) scale(0.9973)"/></g><g transform="translate(474.5 663.0) rotate(6.50)"><g transform="scale(0.9080 1)" fill="none" stroke="#000" stroke-width="6.90" stroke-linecap="butt" stroke-linejoin="miter"><path d="M11.0 0 V-37 M11.6 -33.8 L1.4 -26.8" transform="translate(0.00 0)"/><path d="M4.58 -24.68 A8.30 7.05 0 1 1 19.79 -22.98 L4.25 -3.95 M0 -3.45 H25.5" transform="translate(25.95 0)"/><path d="M5.45 -28.00 A7.05 5.55 0 1 1 19.55 -28.00 A7.05 5.55 0 1 1 5.45 -28.00 Z M3.45 -11.00 A9.05 7.55 0 1 1 21.55 -11.00 A9.05 7.55 0 1 1 3.45 -11.00 Z " transform="translate(55.95 0)"/></g><path d="M24.92 -20.01 A12.60 12.60 0 1 0 24.92 -7.79 M36 0 V-26.20 M36 -15.5 C36 -23.5 40 -26.2 45.25 -26.2 C50.5 -26.2 54.5 -23.5 54.5 -15.5 V0 M54.5 -15.5 C54.5 -23.5 58.5 -26.2 63.75 -26.2 C69 -26.2 73 -23.5 73 -15.5 V0" fill="none" stroke="#000" stroke-width="2.84" stroke-linecap="butt" transform="translate(79.50 0) scale(0.9866)"/></g><g transform="translate(843.5 682.5) rotate(-13.50)"><g transform="scale(0.9294 1)" fill="none" stroke="#000" stroke-width="6.90" stroke-linecap="butt" stroke-linejoin="miter"><path d="M8.6 -33.9 H25.3 M9.6 -37 L6.6 -19.2 M4.95 -16.53 A8.55 8.55 0 1 1 4.45 -8.39 " transform="translate(-1.00 0)"/><path d="M5.45 -28.00 A7.05 5.55 0 1 1 19.55 -28.00 A7.05 5.55 0 1 1 5.45 -28.00 Z M3.45 -11.00 A9.05 7.55 0 1 1 21.55 -11.00 A9.05 7.55 0 1 1 3.45 -11.00 Z " transform="translate(28.80 0)"/></g><path d="M24.92 -20.01 A12.60 12.60 0 1 0 24.92 -7.79 M36 0 V-26.20 M36 -15.5 C36 -23.5 40 -26.2 45.25 -26.2 C50.5 -26.2 54.5 -23.5 54.5 -15.5 V0 M54.5 -15.5 C54.5 -23.5 58.5 -26.2 63.75 -26.2 C69 -26.2 73 -23.5 73 -15.5 V0" fill="none" stroke="#000" stroke-width="2.86" stroke-linecap="butt" transform="translate(54.50 0) scale(0.9799)"/></g><g transform="translate(1032.5 552.0) rotate(-82.50)"><g transform="scale(1.0707 1)" fill="none" stroke="#000" stroke-width="6.90" stroke-linecap="butt" stroke-linejoin="miter"><path d="M8.6 -33.9 H25.3 M9.6 -37 L6.6 -19.2 M4.95 -16.53 A8.55 8.55 0 1 1 4.45 -8.39 " transform="translate(-1.00 0)"/><path d="M3.45 -18.60 A8.30 15.35 0 1 1 20.05 -18.60 A8.30 15.35 0 1 1 3.45 -18.60 Z " transform="translate(28.80 0)"/></g><path d="M24.92 -20.01 A12.60 12.60 0 1 0 24.92 -7.79 M36 0 V-26.20 M36 -15.5 C36 -23.5 40 -26.2 45.25 -26.2 C50.5 -26.2 54.5 -23.5 54.5 -15.5 V0 M54.5 -15.5 C54.5 -23.5 58.5 -26.2 63.75 -26.2 C69 -26.2 73 -23.5 73 -15.5 V0" fill="none" stroke="#000" stroke-width="2.86" stroke-linecap="butt" transform="translate(58.00 0) scale(0.9799)"/></g><g transform="translate(1288.0 506.0) rotate(-86.00)"><g transform="scale(1.0391 1)" fill="none" stroke="#000" stroke-width="6.90" stroke-linecap="butt" stroke-linejoin="miter"><path d="M6.08 -29.64 A7.30 6.25 0 1 1 12.85 -21.05 M10.4 -19.60 H12.32 M12.32 -19.15 A8.88 7.85 0 1 1 4.10 -8.36 " transform="translate(-0.20 0)"/><path d="M3.45 -18.60 A8.30 15.35 0 1 1 20.05 -18.60 A8.30 15.35 0 1 1 3.45 -18.60 Z " transform="translate(28.95 0)"/></g><path d="M24.92 -20.01 A12.60 12.60 0 1 0 24.92 -7.79 M36 0 V-26.20 M36 -15.5 C36 -23.5 40 -26.2 45.25 -26.2 C50.5 -26.2 54.5 -23.5 54.5 -15.5 V0 M54.5 -15.5 C54.5 -23.5 58.5 -26.2 63.75 -26.2 C69 -26.2 73 -23.5 73 -15.5 V0" fill="none" stroke="#000" stroke-width="2.78" stroke-linecap="butt" transform="translate(58.00 0) scale(1.0067)"/></g><g transform="translate(1344.0 419.0) rotate(10.00)"><g transform="scale(0.8844 1)" fill="none" stroke="#000" stroke-width="6.90" stroke-linecap="butt" stroke-linejoin="miter"><path d="M11.0 0 V-37 M11.6 -33.8 L1.4 -26.8" transform="translate(0.00 0)"/><path d="M4.58 -24.68 A8.30 7.05 0 1 1 19.79 -22.98 L4.25 -3.95 M0 -3.45 H25.5" transform="translate(25.95 0)"/></g><path d="M24.92 -20.01 A12.60 12.60 0 1 0 24.92 -7.79 M36 0 V-26.20 M36 -15.5 C36 -23.5 40 -26.2 45.25 -26.2 C50.5 -26.2 54.5 -23.5 54.5 -15.5 V0 M54.5 -15.5 C54.5 -23.5 58.5 -26.2 63.75 -26.2 C69 -26.2 73 -23.5 73 -15.5 V0" fill="none" stroke="#000" stroke-width="2.84" stroke-linecap="butt" transform="translate(50.20 0) scale(0.9866)"/></g><g transform="translate(1376.0 655.5) rotate(3.00)"><g transform="scale(1.0216 1)" fill="none" stroke="#000" stroke-width="6.90" stroke-linecap="butt" stroke-linejoin="miter"><path d="M6.08 -29.64 A7.30 6.25 0 1 1 12.85 -21.05 M10.4 -19.60 H12.32 M12.32 -19.15 A8.88 7.85 0 1 1 4.10 -8.36 " transform="translate(-0.20 0)"/><path d="M8.6 -33.9 H25.3 M9.6 -37 L6.6 -19.2 M4.95 -16.53 A8.55 8.55 0 1 1 4.45 -8.39 " transform="translate(27.95 0)"/></g><path d="M24.92 -20.01 A12.60 12.60 0 1 0 24.92 -7.79 M36 0 V-26.20 M36 -15.5 C36 -23.5 40 -26.2 45.25 -26.2 C50.5 -26.2 54.5 -23.5 54.5 -15.5 V0 M54.5 -15.5 C54.5 -23.5 58.5 -26.2 63.75 -26.2 C69 -26.2 73 -23.5 73 -15.5 V0" fill="none" stroke="#000" stroke-width="2.78" stroke-linecap="butt" transform="translate(58.00 0) scale(1.0067)"/></g><g transform="translate(1856.5 565.0) rotate(90.00)"><g transform="scale(1.0721 1)" fill="none" stroke="#000" stroke-width="6.90" stroke-linecap="butt" stroke-linejoin="miter"><path d="M0 -33.5 H22.8 L7.8 0" transform="translate(0.00 0)"/><path d="M3.45 -18.60 A8.30 15.35 0 1 1 20.05 -18.60 A8.30 15.35 0 1 1 3.45 -18.60 Z " transform="translate(28.00 0)"/><path d="M0 -14 H11.5" transform="translate(56.00 0)"/><path d="M3.45 -24.50 A8.30 9.05 0 1 1 20.05 -24.50 A8.30 9.05 0 1 1 3.45 -24.50 Z M19.75 -22.00 L5.4 0" transform="translate(72.00 0)"/><path d="M3.45 -18.60 A8.30 15.35 0 1 1 20.05 -18.60 A8.30 15.35 0 1 1 3.45 -18.60 Z " transform="translate(100.00 0)"/></g><path d="M24.92 -20.01 A12.60 12.60 0 1 0 24.92 -7.79 M36 0 V-26.20 M36 -15.5 C36 -23.5 40 -26.2 45.25 -26.2 C50.5 -26.2 54.5 -23.5 54.5 -15.5 V0 M54.5 -15.5 C54.5 -23.5 58.5 -26.2 63.75 -26.2 C69 -26.2 73 -23.5 73 -15.5 V0" fill="none" stroke="#000" stroke-width="2.83" stroke-linecap="butt" transform="translate(134.60 0) scale(0.9893)"/></g><g transform="translate(1760.3 721.0) rotate(90.00)"><g transform="scale(1.0369 1)" fill="none" stroke="#000" stroke-width="6.90" stroke-linecap="butt" stroke-linejoin="miter"><path d="M3.45 -12.50 A8.30 9.05 0 1 1 20.05 -12.50 A8.30 9.05 0 1 1 3.45 -12.50 Z M18.8 -37 L4.6 -15.00" transform="translate(0.00 0)"/><path d="M3.45 -18.60 A8.30 15.35 0 1 1 20.05 -18.60 A8.30 15.35 0 1 1 3.45 -18.60 Z " transform="translate(28.00 0)"/></g><path d="M24.92 -20.01 A12.60 12.60 0 1 0 24.92 -7.79 M36 0 V-26.20 M36 -15.5 C36 -23.5 40 -26.2 45.25 -26.2 C50.5 -26.2 54.5 -23.5 54.5 -15.5 V0 M54.5 -15.5 C54.5 -23.5 58.5 -26.2 63.75 -26.2 C69 -26.2 73 -23.5 73 -15.5 V0" fill="none" stroke="#000" stroke-width="2.87" stroke-linecap="butt" transform="translate(57.60 0) scale(0.9758)"/></g><g transform="translate(789.5 821.0) rotate(90.00)"><g transform="scale(0.9835 1)" fill="none" stroke="#000" stroke-width="6.90" stroke-linecap="butt" stroke-linejoin="miter"><path d="M17.6 0 V-37 L3.4 -11.8 M0 -11.8 H25" transform="translate(0.00 0)"/><path d="M17.6 0 V-37 L3.4 -11.8 M0 -11.8 H25" transform="translate(29.50 0)"/></g><path d="M24.92 -20.01 A12.60 12.60 0 1 0 24.92 -7.79 M36 0 V-26.20 M36 -15.5 C36 -23.5 40 -26.2 45.25 -26.2 C50.5 -26.2 54.5 -23.5 54.5 -15.5 V0 M54.5 -15.5 C54.5 -23.5 58.5 -26.2 63.75 -26.2 C69 -26.2 73 -23.5 73 -15.5 V0" fill="none" stroke="#000" stroke-width="2.83" stroke-linecap="butt" transform="translate(58.00 0) scale(0.9879)"/></g><g transform="translate(1428.6 1035.7) rotate(-90.00)"><g transform="scale(1.0048 1)" fill="none" stroke="#000" stroke-width="6.90" stroke-linecap="butt" stroke-linejoin="miter"><path d="M6.08 -29.64 A7.30 6.25 0 1 1 12.85 -21.05 M10.4 -19.60 H12.32 M12.32 -19.15 A8.88 7.85 0 1 1 4.10 -8.36 " transform="translate(-0.20 0)"/><path d="M3.45 -24.50 A8.30 9.05 0 1 1 20.05 -24.50 A8.30 9.05 0 1 1 3.45 -24.50 Z M19.75 -22.00 L5.4 0" transform="translate(28.95 0)"/></g><path d="M24.92 -20.01 A12.60 12.60 0 1 0 24.92 -7.79 M36 0 V-26.20 M36 -15.5 C36 -23.5 40 -26.2 45.25 -26.2 C50.5 -26.2 54.5 -23.5 54.5 -15.5 V0 M54.5 -15.5 C54.5 -23.5 58.5 -26.2 63.75 -26.2 C69 -26.2 73 -23.5 73 -15.5 V0" fill="none" stroke="#000" stroke-width="2.84" stroke-linecap="butt" transform="translate(57.80 0) scale(0.9852)"/></g><g transform="translate(298.4 885.4) rotate(90.00)"><g transform="scale(0.9532 1)" fill="none" stroke="#000" stroke-width="6.90" stroke-linecap="butt" stroke-linejoin="miter"><path d="M3.45 -24.50 A8.30 9.05 0 1 1 20.05 -24.50 A8.30 9.05 0 1 1 3.45 -24.50 Z M19.75 -22.00 L5.4 0" transform="translate(0.00 0)"/></g><path d="M24.92 -20.01 A12.60 12.60 0 1 0 24.92 -7.79 M36 0 V-26.20 M36 -15.5 C36 -23.5 40 -26.2 45.25 -26.2 C50.5 -26.2 54.5 -23.5 54.5 -15.5 V0 M54.5 -15.5 C54.5 -23.5 58.5 -26.2 63.75 -26.2 C69 -26.2 73 -23.5 73 -15.5 V0" fill="none" stroke="#000" stroke-width="2.88" stroke-linecap="butt" transform="translate(28.80 0) scale(0.9732)"/></g></g>
</svg></body></html>
